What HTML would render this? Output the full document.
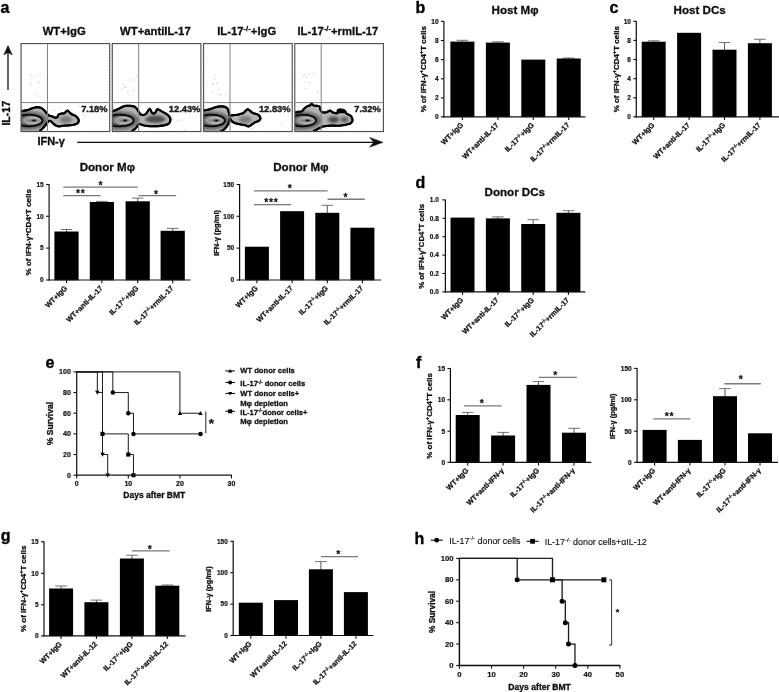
<!DOCTYPE html>
<html><head><meta charset="utf-8"><title>Figure</title>
<style>html,body{margin:0;padding:0;background:#fff;}svg{display:block;font-family:"Liberation Sans", sans-serif;}text{font-family:"Liberation Sans", sans-serif;}</style></head><body>
<svg width="779" height="692" viewBox="0 0 779 692">
<defs><filter id="bl" x="-20%" y="-20%" width="140%" height="140%"><feGaussianBlur stdDeviation="0.33"/></filter><filter id="bl2" x="-20%" y="-20%" width="140%" height="140%"><feGaussianBlur stdDeviation="1.6"/></filter></defs>
<rect width="779" height="692" fill="#fff"/>
<g filter="url(#bl)">
<text x="0.60" y="12.90" font-size="16.00" font-weight="bold" text-anchor="start" fill="#000" stroke="#000" stroke-width="0.35" stroke-linejoin="round" >a</text>
<text x="415.50" y="13.10" font-size="16.00" font-weight="bold" text-anchor="start" fill="#000" stroke="#000" stroke-width="0.35" stroke-linejoin="round" >b</text>
<text x="609.40" y="12.50" font-size="16.00" font-weight="bold" text-anchor="start" fill="#000" stroke="#000" stroke-width="0.35" stroke-linejoin="round" >c</text>
<text x="415.50" y="187.70" font-size="16.00" font-weight="bold" text-anchor="start" fill="#000" stroke="#000" stroke-width="0.35" stroke-linejoin="round" >d</text>
<text x="45.60" y="367.80" font-size="16.00" font-weight="bold" text-anchor="start" fill="#000" stroke="#000" stroke-width="0.35" stroke-linejoin="round" >e</text>
<text x="416.00" y="368.40" font-size="16.00" font-weight="bold" text-anchor="start" fill="#000" stroke="#000" stroke-width="0.35" stroke-linejoin="round" >f</text>
<text x="0.80" y="541.10" font-size="16.00" font-weight="bold" text-anchor="start" fill="#000" stroke="#000" stroke-width="0.35" stroke-linejoin="round" >g</text>
<text x="414.40" y="543.70" font-size="16.00" font-weight="bold" text-anchor="start" fill="#000" stroke="#000" stroke-width="0.35" stroke-linejoin="round" >h</text>
<text x="64.20" y="34.90" font-size="11.30" font-weight="bold" text-anchor="middle" fill="#111" stroke="#111" stroke-width="0.30" stroke-linejoin="round" >WT+IgG</text>
<rect x="34.3" y="75.8" width="1.4" height="1.4" fill="#d8d8d8"/>
<rect x="39.5" y="73.8" width="1.4" height="1.4" fill="#d8d8d8"/>
<rect x="37.7" y="81.1" width="1.4" height="1.4" fill="#d8d8d8"/>
<rect x="30.0" y="84.7" width="1.4" height="1.4" fill="#d8d8d8"/>
<rect x="29.7" y="82.8" width="1.4" height="1.4" fill="#d8d8d8"/>
<rect x="30.2" y="74.3" width="1.4" height="1.4" fill="#d8d8d8"/>
<rect x="35.9" y="92.7" width="1.4" height="1.4" fill="#d8d8d8"/>
<rect x="31.1" y="77.6" width="1.4" height="1.4" fill="#d8d8d8"/>
<rect x="39.1" y="95.7" width="1.4" height="1.4" fill="#d8d8d8"/>
<rect x="38.3" y="81.9" width="1.4" height="1.4" fill="#d8d8d8"/>
<rect x="99.9" y="105.3" width="1.3" height="1.3" fill="#d6d6d6"/>
<rect x="94.0" y="111.8" width="1.3" height="1.3" fill="#d6d6d6"/>
<rect x="58.3" y="107.2" width="1.3" height="1.3" fill="#d6d6d6"/>
<rect x="66.5" y="126.0" width="1.3" height="1.3" fill="#d6d6d6"/>
<rect x="60.1" y="119.7" width="1.3" height="1.3" fill="#d6d6d6"/>
<rect x="83.0" y="114.1" width="1.3" height="1.3" fill="#d6d6d6"/>
<rect x="78.5" y="105.7" width="1.3" height="1.3" fill="#d6d6d6"/>
<rect x="54.1" y="109.6" width="1.3" height="1.3" fill="#d6d6d6"/>
<rect x="85.1" y="115.5" width="1.3" height="1.3" fill="#d6d6d6"/>
<g transform="translate(21.10,0)">
<clipPath id="cp0"><rect x="0.3" y="43.6" width="88.0" height="87.7"/></clipPath>
<g clip-path="url(#cp0)">
<path d="M-0.07,111.26 C1.72,110.99 4.75,110.51 6.74,109.97 C8.73,109.44 10.37,108.52 11.87,108.05 C13.37,107.58 14.44,107.21 15.72,107.15 C17.01,107.08 18.40,107.19 19.57,107.66 C20.75,108.13 21.82,109.05 22.78,109.97 C23.75,110.89 24.56,112.28 25.35,113.18 C26.14,114.08 26.57,114.83 27.53,115.36 C28.50,115.90 29.99,116.01 31.13,116.39 C32.26,116.78 33.48,117.57 34.34,117.67 C35.19,117.78 35.73,117.57 36.26,117.03 C36.80,116.50 36.90,115.04 37.55,114.46 C38.19,113.89 39.15,113.78 40.11,113.57 C41.08,113.35 42.47,113.57 43.32,113.18 C44.18,112.80 44.67,111.68 45.25,111.26 C45.83,110.83 46.25,110.40 46.79,110.61 C47.32,110.83 47.75,111.90 48.46,112.54 C49.16,113.18 50.06,113.93 51.02,114.46 C51.99,115.00 53.27,115.11 54.23,115.75 C55.20,116.39 56.22,117.46 56.80,118.32 C57.38,119.17 57.81,120.03 57.70,120.88 C57.59,121.74 56.95,122.81 56.16,123.45 C55.37,124.09 54.34,124.41 52.95,124.73 C51.56,125.06 49.53,125.23 47.82,125.38 C46.10,125.53 44.29,125.46 42.68,125.63 C41.08,125.80 39.47,126.40 38.19,126.40 C36.90,126.40 35.94,126.06 34.98,125.63 C34.02,125.20 33.27,124.56 32.41,123.84 C31.56,123.11 30.59,121.76 29.84,121.27 C29.09,120.78 28.56,120.63 27.92,120.88 C27.28,121.14 26.63,122.02 25.99,122.81 C25.35,123.60 24.82,124.67 24.07,125.63 C23.32,126.60 22.36,127.71 21.50,128.59 C20.64,129.46 19.61,129.91 18.93,130.90 C18.25,131.88 21.25,133.90 17.43,134.50 C13.61,135.10 -0.43,138.32 -4.00,134.50 C-7.57,130.68 -4.66,115.43 -4.00,111.56 C-3.34,107.68 -1.86,111.52 -0.07,111.26 Z" fill="#b4b4b4" stroke="#000" stroke-width="2.1" stroke-linejoin="round"/>
<ellipse cx="44.6" cy="119.6" rx="6.4" ry="3.3" fill="#777" filter="url(#bl2)"/>
<ellipse cx="7" cy="120.5" rx="19.5" ry="9.2" fill="#636363" filter="url(#bl2)"/>
<ellipse cx="7.6" cy="120.5" rx="13.8" ry="6.0" fill="#464646" stroke="#000" stroke-width="1.5"/>
<ellipse cx="9.6" cy="120.5" rx="10.6" ry="4.4" fill="#808080" stroke="none" stroke-width="0.0"/>
<ellipse cx="11.4" cy="120.5" rx="7.8" ry="3.2" fill="#858585" stroke="#dcdcdc" stroke-width="0.7"/>
<ellipse cx="12.0" cy="120.5" rx="5.0" ry="1.9" fill="#707070" stroke="#d8d8d8" stroke-width="0.6"/>
<ellipse cx="12.9" cy="120.5" rx="1.9" ry="0.9" fill="#111" stroke="none" stroke-width="0.0"/>
<path d="M-0.07,111.26 C1.72,110.99 4.75,110.51 6.74,109.97 C8.73,109.44 10.37,108.52 11.87,108.05 C13.37,107.58 14.44,107.21 15.72,107.15 C17.01,107.08 18.40,107.19 19.57,107.66 C20.75,108.13 21.82,109.05 22.78,109.97 C23.75,110.89 24.56,112.28 25.35,113.18 C26.14,114.08 26.57,114.83 27.53,115.36 C28.50,115.90 29.99,116.01 31.13,116.39 C32.26,116.78 33.48,117.57 34.34,117.67 C35.19,117.78 35.73,117.57 36.26,117.03 C36.80,116.50 36.90,115.04 37.55,114.46 C38.19,113.89 39.15,113.78 40.11,113.57 C41.08,113.35 42.47,113.57 43.32,113.18 C44.18,112.80 44.67,111.68 45.25,111.26 C45.83,110.83 46.25,110.40 46.79,110.61 C47.32,110.83 47.75,111.90 48.46,112.54 C49.16,113.18 50.06,113.93 51.02,114.46 C51.99,115.00 53.27,115.11 54.23,115.75 C55.20,116.39 56.22,117.46 56.80,118.32 C57.38,119.17 57.81,120.03 57.70,120.88 C57.59,121.74 56.95,122.81 56.16,123.45 C55.37,124.09 54.34,124.41 52.95,124.73 C51.56,125.06 49.53,125.23 47.82,125.38 C46.10,125.53 44.29,125.46 42.68,125.63 C41.08,125.80 39.47,126.40 38.19,126.40 C36.90,126.40 35.94,126.06 34.98,125.63 C34.02,125.20 33.27,124.56 32.41,123.84 C31.56,123.11 30.59,121.76 29.84,121.27 C29.09,120.78 28.56,120.63 27.92,120.88 C27.28,121.14 26.63,122.02 25.99,122.81 C25.35,123.60 24.82,124.67 24.07,125.63 C23.32,126.60 22.36,127.71 21.50,128.59 C20.64,129.46 19.61,129.91 18.93,130.90 C18.25,131.88 21.25,133.90 17.43,134.50 C13.61,135.10 -0.43,138.32 -4.00,134.50 C-7.57,130.68 -4.66,115.43 -4.00,111.56 C-3.34,107.68 -1.86,111.52 -0.07,111.26 Z" fill="none" stroke="#000" stroke-width="2.0" stroke-linejoin="round"/>
</g></g>
<rect x="21.10" y="43.60" width="88.60" height="87.90" fill="none" stroke="#4a4a4a" stroke-width="1.10"/>
<line x1="47.50" y1="43.60" x2="47.50" y2="131.50" stroke="#808080" stroke-width="1.00" stroke-linecap="butt"/>
<line x1="21.10" y1="102.60" x2="109.70" y2="102.60" stroke="#808080" stroke-width="1.00" stroke-linecap="butt"/>
<line x1="19.90" y1="45.60" x2="21.10" y2="45.60" stroke="#888" stroke-width="0.50" stroke-linecap="butt"/>
<line x1="19.90" y1="48.60" x2="21.10" y2="48.60" stroke="#888" stroke-width="0.50" stroke-linecap="butt"/>
<line x1="19.90" y1="51.60" x2="21.10" y2="51.60" stroke="#888" stroke-width="0.50" stroke-linecap="butt"/>
<line x1="19.90" y1="54.60" x2="21.10" y2="54.60" stroke="#888" stroke-width="0.50" stroke-linecap="butt"/>
<line x1="19.90" y1="57.60" x2="21.10" y2="57.60" stroke="#888" stroke-width="0.50" stroke-linecap="butt"/>
<line x1="19.90" y1="60.60" x2="21.10" y2="60.60" stroke="#888" stroke-width="0.50" stroke-linecap="butt"/>
<line x1="19.90" y1="63.60" x2="21.10" y2="63.60" stroke="#888" stroke-width="0.50" stroke-linecap="butt"/>
<line x1="19.90" y1="66.60" x2="21.10" y2="66.60" stroke="#888" stroke-width="0.50" stroke-linecap="butt"/>
<line x1="19.90" y1="69.60" x2="21.10" y2="69.60" stroke="#888" stroke-width="0.50" stroke-linecap="butt"/>
<line x1="19.90" y1="72.60" x2="21.10" y2="72.60" stroke="#888" stroke-width="0.50" stroke-linecap="butt"/>
<line x1="19.90" y1="75.60" x2="21.10" y2="75.60" stroke="#888" stroke-width="0.50" stroke-linecap="butt"/>
<line x1="19.90" y1="78.60" x2="21.10" y2="78.60" stroke="#888" stroke-width="0.50" stroke-linecap="butt"/>
<line x1="19.90" y1="81.60" x2="21.10" y2="81.60" stroke="#888" stroke-width="0.50" stroke-linecap="butt"/>
<line x1="19.90" y1="84.60" x2="21.10" y2="84.60" stroke="#888" stroke-width="0.50" stroke-linecap="butt"/>
<line x1="19.90" y1="87.60" x2="21.10" y2="87.60" stroke="#888" stroke-width="0.50" stroke-linecap="butt"/>
<line x1="19.90" y1="90.60" x2="21.10" y2="90.60" stroke="#888" stroke-width="0.50" stroke-linecap="butt"/>
<line x1="19.90" y1="93.60" x2="21.10" y2="93.60" stroke="#888" stroke-width="0.50" stroke-linecap="butt"/>
<line x1="19.90" y1="96.60" x2="21.10" y2="96.60" stroke="#888" stroke-width="0.50" stroke-linecap="butt"/>
<line x1="19.90" y1="99.60" x2="21.10" y2="99.60" stroke="#888" stroke-width="0.50" stroke-linecap="butt"/>
<line x1="19.90" y1="102.60" x2="21.10" y2="102.60" stroke="#888" stroke-width="0.50" stroke-linecap="butt"/>
<line x1="19.90" y1="105.60" x2="21.10" y2="105.60" stroke="#888" stroke-width="0.50" stroke-linecap="butt"/>
<line x1="19.90" y1="108.60" x2="21.10" y2="108.60" stroke="#888" stroke-width="0.50" stroke-linecap="butt"/>
<line x1="19.90" y1="111.60" x2="21.10" y2="111.60" stroke="#888" stroke-width="0.50" stroke-linecap="butt"/>
<line x1="19.90" y1="114.60" x2="21.10" y2="114.60" stroke="#888" stroke-width="0.50" stroke-linecap="butt"/>
<line x1="19.90" y1="117.60" x2="21.10" y2="117.60" stroke="#888" stroke-width="0.50" stroke-linecap="butt"/>
<line x1="19.90" y1="120.60" x2="21.10" y2="120.60" stroke="#888" stroke-width="0.50" stroke-linecap="butt"/>
<line x1="19.90" y1="123.60" x2="21.10" y2="123.60" stroke="#888" stroke-width="0.50" stroke-linecap="butt"/>
<line x1="19.90" y1="126.60" x2="21.10" y2="126.60" stroke="#888" stroke-width="0.50" stroke-linecap="butt"/>
<line x1="19.90" y1="129.60" x2="21.10" y2="129.60" stroke="#888" stroke-width="0.50" stroke-linecap="butt"/>
<line x1="22.10" y1="131.50" x2="22.10" y2="132.70" stroke="#888" stroke-width="0.50" stroke-linecap="butt"/>
<line x1="25.10" y1="131.50" x2="25.10" y2="132.70" stroke="#888" stroke-width="0.50" stroke-linecap="butt"/>
<line x1="28.10" y1="131.50" x2="28.10" y2="132.70" stroke="#888" stroke-width="0.50" stroke-linecap="butt"/>
<line x1="31.10" y1="131.50" x2="31.10" y2="132.70" stroke="#888" stroke-width="0.50" stroke-linecap="butt"/>
<line x1="34.10" y1="131.50" x2="34.10" y2="132.70" stroke="#888" stroke-width="0.50" stroke-linecap="butt"/>
<line x1="37.10" y1="131.50" x2="37.10" y2="132.70" stroke="#888" stroke-width="0.50" stroke-linecap="butt"/>
<line x1="40.10" y1="131.50" x2="40.10" y2="132.70" stroke="#888" stroke-width="0.50" stroke-linecap="butt"/>
<line x1="43.10" y1="131.50" x2="43.10" y2="132.70" stroke="#888" stroke-width="0.50" stroke-linecap="butt"/>
<line x1="46.10" y1="131.50" x2="46.10" y2="132.70" stroke="#888" stroke-width="0.50" stroke-linecap="butt"/>
<line x1="49.10" y1="131.50" x2="49.10" y2="132.70" stroke="#888" stroke-width="0.50" stroke-linecap="butt"/>
<line x1="52.10" y1="131.50" x2="52.10" y2="132.70" stroke="#888" stroke-width="0.50" stroke-linecap="butt"/>
<line x1="55.10" y1="131.50" x2="55.10" y2="132.70" stroke="#888" stroke-width="0.50" stroke-linecap="butt"/>
<line x1="58.10" y1="131.50" x2="58.10" y2="132.70" stroke="#888" stroke-width="0.50" stroke-linecap="butt"/>
<line x1="61.10" y1="131.50" x2="61.10" y2="132.70" stroke="#888" stroke-width="0.50" stroke-linecap="butt"/>
<line x1="64.10" y1="131.50" x2="64.10" y2="132.70" stroke="#888" stroke-width="0.50" stroke-linecap="butt"/>
<line x1="67.10" y1="131.50" x2="67.10" y2="132.70" stroke="#888" stroke-width="0.50" stroke-linecap="butt"/>
<line x1="70.10" y1="131.50" x2="70.10" y2="132.70" stroke="#888" stroke-width="0.50" stroke-linecap="butt"/>
<line x1="73.10" y1="131.50" x2="73.10" y2="132.70" stroke="#888" stroke-width="0.50" stroke-linecap="butt"/>
<line x1="76.10" y1="131.50" x2="76.10" y2="132.70" stroke="#888" stroke-width="0.50" stroke-linecap="butt"/>
<line x1="79.10" y1="131.50" x2="79.10" y2="132.70" stroke="#888" stroke-width="0.50" stroke-linecap="butt"/>
<line x1="82.10" y1="131.50" x2="82.10" y2="132.70" stroke="#888" stroke-width="0.50" stroke-linecap="butt"/>
<line x1="85.10" y1="131.50" x2="85.10" y2="132.70" stroke="#888" stroke-width="0.50" stroke-linecap="butt"/>
<line x1="88.10" y1="131.50" x2="88.10" y2="132.70" stroke="#888" stroke-width="0.50" stroke-linecap="butt"/>
<line x1="91.10" y1="131.50" x2="91.10" y2="132.70" stroke="#888" stroke-width="0.50" stroke-linecap="butt"/>
<line x1="94.10" y1="131.50" x2="94.10" y2="132.70" stroke="#888" stroke-width="0.50" stroke-linecap="butt"/>
<line x1="97.10" y1="131.50" x2="97.10" y2="132.70" stroke="#888" stroke-width="0.50" stroke-linecap="butt"/>
<line x1="100.10" y1="131.50" x2="100.10" y2="132.70" stroke="#888" stroke-width="0.50" stroke-linecap="butt"/>
<line x1="103.10" y1="131.50" x2="103.10" y2="132.70" stroke="#888" stroke-width="0.50" stroke-linecap="butt"/>
<line x1="106.10" y1="131.50" x2="106.10" y2="132.70" stroke="#888" stroke-width="0.50" stroke-linecap="butt"/>
<line x1="109.10" y1="131.50" x2="109.10" y2="132.70" stroke="#888" stroke-width="0.50" stroke-linecap="butt"/>
<text x="107.50" y="111.80" font-size="9.30" font-weight="bold" text-anchor="end" fill="#1a1a1a" stroke="#1a1a1a" stroke-width="0.40" stroke-linejoin="round" >7.18%</text>
<text x="155.40" y="34.90" font-size="11.30" font-weight="bold" text-anchor="middle" fill="#111" stroke="#111" stroke-width="0.30" stroke-linejoin="round" >WT+antiIL-17</text>
<rect x="125.3" y="86.6" width="1.4" height="1.4" fill="#d8d8d8"/>
<rect x="127.6" y="79.5" width="1.4" height="1.4" fill="#d8d8d8"/>
<rect x="133.0" y="89.5" width="1.4" height="1.4" fill="#d8d8d8"/>
<rect x="124.2" y="86.4" width="1.4" height="1.4" fill="#d8d8d8"/>
<rect x="128.7" y="93.9" width="1.4" height="1.4" fill="#d8d8d8"/>
<rect x="132.0" y="79.2" width="1.4" height="1.4" fill="#d8d8d8"/>
<rect x="136.0" y="75.0" width="1.4" height="1.4" fill="#d8d8d8"/>
<rect x="127.0" y="90.9" width="1.4" height="1.4" fill="#d8d8d8"/>
<rect x="122.7" y="84.2" width="1.4" height="1.4" fill="#d8d8d8"/>
<rect x="120.9" y="88.7" width="1.4" height="1.4" fill="#d8d8d8"/>
<rect x="180.5" y="119.5" width="1.3" height="1.3" fill="#d6d6d6"/>
<rect x="186.1" y="112.5" width="1.3" height="1.3" fill="#d6d6d6"/>
<rect x="177.1" y="120.0" width="1.3" height="1.3" fill="#d6d6d6"/>
<rect x="171.3" y="116.3" width="1.3" height="1.3" fill="#d6d6d6"/>
<rect x="184.3" y="129.5" width="1.3" height="1.3" fill="#d6d6d6"/>
<rect x="166.0" y="121.9" width="1.3" height="1.3" fill="#d6d6d6"/>
<rect x="145.3" y="122.9" width="1.3" height="1.3" fill="#d6d6d6"/>
<rect x="174.7" y="130.8" width="1.3" height="1.3" fill="#d6d6d6"/>
<rect x="183.4" y="111.7" width="1.3" height="1.3" fill="#d6d6d6"/>
<g transform="translate(112.30,0)">
<clipPath id="cp1"><rect x="0.3" y="43.6" width="88.0" height="87.7"/></clipPath>
<g clip-path="url(#cp1)">
<path d="M0.12,111.26 C1.45,110.99 2.69,110.51 3.97,109.97 C5.25,109.44 6.32,108.73 7.82,108.05 C9.32,107.36 11.24,106.23 12.96,105.86 C14.67,105.50 16.59,105.76 18.09,105.86 C19.59,105.97 20.87,106.04 21.94,106.51 C23.01,106.98 23.76,107.79 24.51,108.69 C25.26,109.59 25.84,111.00 26.43,111.90 C27.03,112.80 27.35,113.54 28.10,114.08 C28.85,114.61 29.99,115.15 30.93,115.11 C31.87,115.06 33.00,114.46 33.75,113.82 C34.50,113.18 34.82,112.11 35.42,111.26 C36.02,110.40 36.81,108.80 37.35,108.69 C37.88,108.58 38.24,109.93 38.63,110.61 C39.01,111.30 39.06,112.35 39.66,112.80 C40.26,113.25 41.54,113.57 42.22,113.31 C42.91,113.05 43.29,111.92 43.76,111.26 C44.23,110.59 44.41,109.50 45.05,109.33 C45.69,109.16 46.76,109.80 47.62,110.23 C48.47,110.66 49.11,111.30 50.18,111.90 C51.25,112.50 52.92,113.07 54.03,113.82 C55.15,114.57 56.17,115.43 56.86,116.39 C57.54,117.35 58.14,118.47 58.14,119.60 C58.14,120.73 57.76,122.27 56.86,123.19 C55.96,124.11 54.29,124.67 52.75,125.12 C51.21,125.57 49.33,125.72 47.62,125.89 C45.90,126.06 44.19,126.10 42.48,126.15 C40.77,126.19 39.06,126.23 37.35,126.15 C35.63,126.06 33.71,125.93 32.21,125.63 C30.71,125.33 29.32,124.61 28.36,124.35 C27.40,124.09 27.01,123.75 26.43,124.09 C25.86,124.43 25.54,125.59 24.89,126.40 C24.25,127.22 23.40,128.22 22.58,128.97 C21.77,129.72 20.69,129.97 20.02,130.90 C19.34,131.82 22.52,133.90 18.52,134.50 C14.51,135.10 -0.25,138.32 -4.00,134.50 C-7.75,130.68 -4.69,115.43 -4.00,111.56 C-3.31,107.68 -1.21,111.52 0.12,111.26 Z" fill="#b4b4b4" stroke="#000" stroke-width="2.1" stroke-linejoin="round"/>
<ellipse cx="43.1" cy="119.2" rx="10.3" ry="3.6" fill="#4a4a4a" filter="url(#bl2)"/>
<ellipse cx="7" cy="120.5" rx="19.5" ry="9.2" fill="#636363" filter="url(#bl2)"/>
<ellipse cx="7.6" cy="120.5" rx="13.8" ry="6.0" fill="#464646" stroke="#000" stroke-width="1.5"/>
<ellipse cx="9.6" cy="120.5" rx="10.6" ry="4.4" fill="#808080" stroke="none" stroke-width="0.0"/>
<ellipse cx="11.4" cy="120.5" rx="7.8" ry="3.2" fill="#858585" stroke="#dcdcdc" stroke-width="0.7"/>
<ellipse cx="12.0" cy="120.5" rx="5.0" ry="1.9" fill="#707070" stroke="#d8d8d8" stroke-width="0.6"/>
<ellipse cx="12.9" cy="120.5" rx="1.9" ry="0.9" fill="#111" stroke="none" stroke-width="0.0"/>
<path d="M0.12,111.26 C1.45,110.99 2.69,110.51 3.97,109.97 C5.25,109.44 6.32,108.73 7.82,108.05 C9.32,107.36 11.24,106.23 12.96,105.86 C14.67,105.50 16.59,105.76 18.09,105.86 C19.59,105.97 20.87,106.04 21.94,106.51 C23.01,106.98 23.76,107.79 24.51,108.69 C25.26,109.59 25.84,111.00 26.43,111.90 C27.03,112.80 27.35,113.54 28.10,114.08 C28.85,114.61 29.99,115.15 30.93,115.11 C31.87,115.06 33.00,114.46 33.75,113.82 C34.50,113.18 34.82,112.11 35.42,111.26 C36.02,110.40 36.81,108.80 37.35,108.69 C37.88,108.58 38.24,109.93 38.63,110.61 C39.01,111.30 39.06,112.35 39.66,112.80 C40.26,113.25 41.54,113.57 42.22,113.31 C42.91,113.05 43.29,111.92 43.76,111.26 C44.23,110.59 44.41,109.50 45.05,109.33 C45.69,109.16 46.76,109.80 47.62,110.23 C48.47,110.66 49.11,111.30 50.18,111.90 C51.25,112.50 52.92,113.07 54.03,113.82 C55.15,114.57 56.17,115.43 56.86,116.39 C57.54,117.35 58.14,118.47 58.14,119.60 C58.14,120.73 57.76,122.27 56.86,123.19 C55.96,124.11 54.29,124.67 52.75,125.12 C51.21,125.57 49.33,125.72 47.62,125.89 C45.90,126.06 44.19,126.10 42.48,126.15 C40.77,126.19 39.06,126.23 37.35,126.15 C35.63,126.06 33.71,125.93 32.21,125.63 C30.71,125.33 29.32,124.61 28.36,124.35 C27.40,124.09 27.01,123.75 26.43,124.09 C25.86,124.43 25.54,125.59 24.89,126.40 C24.25,127.22 23.40,128.22 22.58,128.97 C21.77,129.72 20.69,129.97 20.02,130.90 C19.34,131.82 22.52,133.90 18.52,134.50 C14.51,135.10 -0.25,138.32 -4.00,134.50 C-7.75,130.68 -4.69,115.43 -4.00,111.56 C-3.31,107.68 -1.21,111.52 0.12,111.26 Z" fill="none" stroke="#000" stroke-width="2.0" stroke-linejoin="round"/>
</g></g>
<rect x="112.30" y="43.60" width="88.60" height="87.90" fill="none" stroke="#4a4a4a" stroke-width="1.10"/>
<line x1="138.70" y1="43.60" x2="138.70" y2="131.50" stroke="#808080" stroke-width="1.00" stroke-linecap="butt"/>
<line x1="112.30" y1="102.60" x2="200.90" y2="102.60" stroke="#808080" stroke-width="1.00" stroke-linecap="butt"/>
<line x1="111.10" y1="45.60" x2="112.30" y2="45.60" stroke="#888" stroke-width="0.50" stroke-linecap="butt"/>
<line x1="111.10" y1="48.60" x2="112.30" y2="48.60" stroke="#888" stroke-width="0.50" stroke-linecap="butt"/>
<line x1="111.10" y1="51.60" x2="112.30" y2="51.60" stroke="#888" stroke-width="0.50" stroke-linecap="butt"/>
<line x1="111.10" y1="54.60" x2="112.30" y2="54.60" stroke="#888" stroke-width="0.50" stroke-linecap="butt"/>
<line x1="111.10" y1="57.60" x2="112.30" y2="57.60" stroke="#888" stroke-width="0.50" stroke-linecap="butt"/>
<line x1="111.10" y1="60.60" x2="112.30" y2="60.60" stroke="#888" stroke-width="0.50" stroke-linecap="butt"/>
<line x1="111.10" y1="63.60" x2="112.30" y2="63.60" stroke="#888" stroke-width="0.50" stroke-linecap="butt"/>
<line x1="111.10" y1="66.60" x2="112.30" y2="66.60" stroke="#888" stroke-width="0.50" stroke-linecap="butt"/>
<line x1="111.10" y1="69.60" x2="112.30" y2="69.60" stroke="#888" stroke-width="0.50" stroke-linecap="butt"/>
<line x1="111.10" y1="72.60" x2="112.30" y2="72.60" stroke="#888" stroke-width="0.50" stroke-linecap="butt"/>
<line x1="111.10" y1="75.60" x2="112.30" y2="75.60" stroke="#888" stroke-width="0.50" stroke-linecap="butt"/>
<line x1="111.10" y1="78.60" x2="112.30" y2="78.60" stroke="#888" stroke-width="0.50" stroke-linecap="butt"/>
<line x1="111.10" y1="81.60" x2="112.30" y2="81.60" stroke="#888" stroke-width="0.50" stroke-linecap="butt"/>
<line x1="111.10" y1="84.60" x2="112.30" y2="84.60" stroke="#888" stroke-width="0.50" stroke-linecap="butt"/>
<line x1="111.10" y1="87.60" x2="112.30" y2="87.60" stroke="#888" stroke-width="0.50" stroke-linecap="butt"/>
<line x1="111.10" y1="90.60" x2="112.30" y2="90.60" stroke="#888" stroke-width="0.50" stroke-linecap="butt"/>
<line x1="111.10" y1="93.60" x2="112.30" y2="93.60" stroke="#888" stroke-width="0.50" stroke-linecap="butt"/>
<line x1="111.10" y1="96.60" x2="112.30" y2="96.60" stroke="#888" stroke-width="0.50" stroke-linecap="butt"/>
<line x1="111.10" y1="99.60" x2="112.30" y2="99.60" stroke="#888" stroke-width="0.50" stroke-linecap="butt"/>
<line x1="111.10" y1="102.60" x2="112.30" y2="102.60" stroke="#888" stroke-width="0.50" stroke-linecap="butt"/>
<line x1="111.10" y1="105.60" x2="112.30" y2="105.60" stroke="#888" stroke-width="0.50" stroke-linecap="butt"/>
<line x1="111.10" y1="108.60" x2="112.30" y2="108.60" stroke="#888" stroke-width="0.50" stroke-linecap="butt"/>
<line x1="111.10" y1="111.60" x2="112.30" y2="111.60" stroke="#888" stroke-width="0.50" stroke-linecap="butt"/>
<line x1="111.10" y1="114.60" x2="112.30" y2="114.60" stroke="#888" stroke-width="0.50" stroke-linecap="butt"/>
<line x1="111.10" y1="117.60" x2="112.30" y2="117.60" stroke="#888" stroke-width="0.50" stroke-linecap="butt"/>
<line x1="111.10" y1="120.60" x2="112.30" y2="120.60" stroke="#888" stroke-width="0.50" stroke-linecap="butt"/>
<line x1="111.10" y1="123.60" x2="112.30" y2="123.60" stroke="#888" stroke-width="0.50" stroke-linecap="butt"/>
<line x1="111.10" y1="126.60" x2="112.30" y2="126.60" stroke="#888" stroke-width="0.50" stroke-linecap="butt"/>
<line x1="111.10" y1="129.60" x2="112.30" y2="129.60" stroke="#888" stroke-width="0.50" stroke-linecap="butt"/>
<line x1="113.30" y1="131.50" x2="113.30" y2="132.70" stroke="#888" stroke-width="0.50" stroke-linecap="butt"/>
<line x1="116.30" y1="131.50" x2="116.30" y2="132.70" stroke="#888" stroke-width="0.50" stroke-linecap="butt"/>
<line x1="119.30" y1="131.50" x2="119.30" y2="132.70" stroke="#888" stroke-width="0.50" stroke-linecap="butt"/>
<line x1="122.30" y1="131.50" x2="122.30" y2="132.70" stroke="#888" stroke-width="0.50" stroke-linecap="butt"/>
<line x1="125.30" y1="131.50" x2="125.30" y2="132.70" stroke="#888" stroke-width="0.50" stroke-linecap="butt"/>
<line x1="128.30" y1="131.50" x2="128.30" y2="132.70" stroke="#888" stroke-width="0.50" stroke-linecap="butt"/>
<line x1="131.30" y1="131.50" x2="131.30" y2="132.70" stroke="#888" stroke-width="0.50" stroke-linecap="butt"/>
<line x1="134.30" y1="131.50" x2="134.30" y2="132.70" stroke="#888" stroke-width="0.50" stroke-linecap="butt"/>
<line x1="137.30" y1="131.50" x2="137.30" y2="132.70" stroke="#888" stroke-width="0.50" stroke-linecap="butt"/>
<line x1="140.30" y1="131.50" x2="140.30" y2="132.70" stroke="#888" stroke-width="0.50" stroke-linecap="butt"/>
<line x1="143.30" y1="131.50" x2="143.30" y2="132.70" stroke="#888" stroke-width="0.50" stroke-linecap="butt"/>
<line x1="146.30" y1="131.50" x2="146.30" y2="132.70" stroke="#888" stroke-width="0.50" stroke-linecap="butt"/>
<line x1="149.30" y1="131.50" x2="149.30" y2="132.70" stroke="#888" stroke-width="0.50" stroke-linecap="butt"/>
<line x1="152.30" y1="131.50" x2="152.30" y2="132.70" stroke="#888" stroke-width="0.50" stroke-linecap="butt"/>
<line x1="155.30" y1="131.50" x2="155.30" y2="132.70" stroke="#888" stroke-width="0.50" stroke-linecap="butt"/>
<line x1="158.30" y1="131.50" x2="158.30" y2="132.70" stroke="#888" stroke-width="0.50" stroke-linecap="butt"/>
<line x1="161.30" y1="131.50" x2="161.30" y2="132.70" stroke="#888" stroke-width="0.50" stroke-linecap="butt"/>
<line x1="164.30" y1="131.50" x2="164.30" y2="132.70" stroke="#888" stroke-width="0.50" stroke-linecap="butt"/>
<line x1="167.30" y1="131.50" x2="167.30" y2="132.70" stroke="#888" stroke-width="0.50" stroke-linecap="butt"/>
<line x1="170.30" y1="131.50" x2="170.30" y2="132.70" stroke="#888" stroke-width="0.50" stroke-linecap="butt"/>
<line x1="173.30" y1="131.50" x2="173.30" y2="132.70" stroke="#888" stroke-width="0.50" stroke-linecap="butt"/>
<line x1="176.30" y1="131.50" x2="176.30" y2="132.70" stroke="#888" stroke-width="0.50" stroke-linecap="butt"/>
<line x1="179.30" y1="131.50" x2="179.30" y2="132.70" stroke="#888" stroke-width="0.50" stroke-linecap="butt"/>
<line x1="182.30" y1="131.50" x2="182.30" y2="132.70" stroke="#888" stroke-width="0.50" stroke-linecap="butt"/>
<line x1="185.30" y1="131.50" x2="185.30" y2="132.70" stroke="#888" stroke-width="0.50" stroke-linecap="butt"/>
<line x1="188.30" y1="131.50" x2="188.30" y2="132.70" stroke="#888" stroke-width="0.50" stroke-linecap="butt"/>
<line x1="191.30" y1="131.50" x2="191.30" y2="132.70" stroke="#888" stroke-width="0.50" stroke-linecap="butt"/>
<line x1="194.30" y1="131.50" x2="194.30" y2="132.70" stroke="#888" stroke-width="0.50" stroke-linecap="butt"/>
<line x1="197.30" y1="131.50" x2="197.30" y2="132.70" stroke="#888" stroke-width="0.50" stroke-linecap="butt"/>
<line x1="200.30" y1="131.50" x2="200.30" y2="132.70" stroke="#888" stroke-width="0.50" stroke-linecap="butt"/>
<text x="200.40" y="111.80" font-size="9.30" font-weight="bold" text-anchor="end" fill="#1a1a1a" stroke="#1a1a1a" stroke-width="0.40" stroke-linejoin="round" >12.43%</text>
<text x="246.70" y="34.90" font-size="11.30" font-weight="bold" text-anchor="middle" fill="#111" stroke="#111" stroke-width="0.30" stroke-linejoin="round" >IL-17<tspan dy="-4.07" font-size="7.68">-/-</tspan><tspan dy="4.07" font-size="11.30">​</tspan>+IgG</text>
<rect x="217.8" y="88.7" width="1.4" height="1.4" fill="#d8d8d8"/>
<rect x="212.0" y="83.5" width="1.4" height="1.4" fill="#d8d8d8"/>
<rect x="214.3" y="74.9" width="1.4" height="1.4" fill="#d8d8d8"/>
<rect x="212.5" y="91.2" width="1.4" height="1.4" fill="#d8d8d8"/>
<rect x="213.7" y="78.2" width="1.4" height="1.4" fill="#d8d8d8"/>
<rect x="217.9" y="93.8" width="1.4" height="1.4" fill="#d8d8d8"/>
<rect x="212.9" y="83.2" width="1.4" height="1.4" fill="#d8d8d8"/>
<rect x="220.4" y="94.1" width="1.4" height="1.4" fill="#d8d8d8"/>
<rect x="224.7" y="93.6" width="1.4" height="1.4" fill="#d8d8d8"/>
<rect x="216.1" y="82.4" width="1.4" height="1.4" fill="#d8d8d8"/>
<rect x="251.5" y="127.9" width="1.3" height="1.3" fill="#d6d6d6"/>
<rect x="281.5" y="108.1" width="1.3" height="1.3" fill="#d6d6d6"/>
<rect x="242.4" y="110.3" width="1.3" height="1.3" fill="#d6d6d6"/>
<rect x="245.3" y="117.1" width="1.3" height="1.3" fill="#d6d6d6"/>
<rect x="263.1" y="111.1" width="1.3" height="1.3" fill="#d6d6d6"/>
<rect x="233.8" y="115.3" width="1.3" height="1.3" fill="#d6d6d6"/>
<rect x="252.1" y="119.3" width="1.3" height="1.3" fill="#d6d6d6"/>
<rect x="281.3" y="122.6" width="1.3" height="1.3" fill="#d6d6d6"/>
<rect x="259.4" y="120.7" width="1.3" height="1.3" fill="#d6d6d6"/>
<g transform="translate(203.60,0)">
<clipPath id="cp2"><rect x="0.3" y="43.6" width="88.0" height="87.7"/></clipPath>
<g clip-path="url(#cp2)">
<path d="M0.08,110.61 C1.78,110.35 4.35,109.86 6.24,109.33 C8.12,108.80 9.66,107.90 11.37,107.40 C13.08,106.91 14.90,106.48 16.51,106.38 C18.11,106.27 19.76,106.38 21.00,106.76 C22.24,107.15 23.25,107.73 23.95,108.69 C24.66,109.65 24.87,111.36 25.24,112.54 C25.60,113.72 25.71,115.28 26.13,115.75 C26.56,116.22 27.05,115.47 27.80,115.36 C28.55,115.26 29.62,115.19 30.63,115.11 C31.63,115.02 32.87,115.02 33.84,114.85 C34.80,114.68 35.44,114.36 36.40,114.08 C37.37,113.80 38.65,113.76 39.61,113.18 C40.58,112.60 41.43,111.26 42.18,110.61 C42.93,109.97 43.42,109.33 44.11,109.33 C44.79,109.33 45.54,110.08 46.29,110.61 C47.04,111.15 47.68,112.00 48.60,112.54 C49.52,113.07 50.78,113.44 51.81,113.82 C52.84,114.21 53.90,114.10 54.76,114.85 C55.62,115.60 56.90,117.31 56.94,118.32 C56.99,119.32 55.87,120.24 55.02,120.88 C54.16,121.53 52.66,121.74 51.81,122.17 C50.95,122.59 50.63,122.96 49.88,123.45 C49.13,123.94 48.17,124.63 47.32,125.12 C46.46,125.61 45.60,126.36 44.75,126.40 C43.89,126.45 43.14,125.65 42.18,125.38 C41.22,125.10 40.15,124.95 38.97,124.73 C37.79,124.52 36.30,124.35 35.12,124.09 C33.94,123.84 32.87,123.51 31.91,123.19 C30.95,122.87 30.09,122.66 29.34,122.17 C28.59,121.67 27.93,120.88 27.42,120.24 C26.90,119.60 26.58,118.10 26.26,118.32 C25.94,118.53 25.83,120.46 25.49,121.53 C25.15,122.59 24.81,123.66 24.21,124.73 C23.61,125.80 22.75,126.98 21.90,127.94 C21.04,128.91 19.87,129.98 19.07,130.51 C18.28,131.05 17.72,130.49 17.15,131.15 C16.58,131.82 19.17,133.94 15.65,134.50 C12.12,135.06 -0.73,138.43 -4.00,134.50 C-7.27,130.57 -4.68,114.89 -4.00,110.91 C-3.32,106.93 -1.63,110.88 0.08,110.61 Z" fill="#b4b4b4" stroke="#000" stroke-width="2.1" stroke-linejoin="round"/>
<ellipse cx="41.5" cy="119.6" rx="6.4" ry="3.3" fill="#777" filter="url(#bl2)"/>
<ellipse cx="7" cy="120.5" rx="19.5" ry="9.2" fill="#636363" filter="url(#bl2)"/>
<ellipse cx="7.6" cy="120.5" rx="13.8" ry="6.0" fill="#464646" stroke="#000" stroke-width="1.5"/>
<ellipse cx="9.6" cy="120.5" rx="10.6" ry="4.4" fill="#808080" stroke="none" stroke-width="0.0"/>
<ellipse cx="11.4" cy="120.5" rx="7.8" ry="3.2" fill="#858585" stroke="#dcdcdc" stroke-width="0.7"/>
<ellipse cx="12.0" cy="120.5" rx="5.0" ry="1.9" fill="#707070" stroke="#d8d8d8" stroke-width="0.6"/>
<ellipse cx="12.9" cy="120.5" rx="1.9" ry="0.9" fill="#111" stroke="none" stroke-width="0.0"/>
<path d="M0.08,110.61 C1.78,110.35 4.35,109.86 6.24,109.33 C8.12,108.80 9.66,107.90 11.37,107.40 C13.08,106.91 14.90,106.48 16.51,106.38 C18.11,106.27 19.76,106.38 21.00,106.76 C22.24,107.15 23.25,107.73 23.95,108.69 C24.66,109.65 24.87,111.36 25.24,112.54 C25.60,113.72 25.71,115.28 26.13,115.75 C26.56,116.22 27.05,115.47 27.80,115.36 C28.55,115.26 29.62,115.19 30.63,115.11 C31.63,115.02 32.87,115.02 33.84,114.85 C34.80,114.68 35.44,114.36 36.40,114.08 C37.37,113.80 38.65,113.76 39.61,113.18 C40.58,112.60 41.43,111.26 42.18,110.61 C42.93,109.97 43.42,109.33 44.11,109.33 C44.79,109.33 45.54,110.08 46.29,110.61 C47.04,111.15 47.68,112.00 48.60,112.54 C49.52,113.07 50.78,113.44 51.81,113.82 C52.84,114.21 53.90,114.10 54.76,114.85 C55.62,115.60 56.90,117.31 56.94,118.32 C56.99,119.32 55.87,120.24 55.02,120.88 C54.16,121.53 52.66,121.74 51.81,122.17 C50.95,122.59 50.63,122.96 49.88,123.45 C49.13,123.94 48.17,124.63 47.32,125.12 C46.46,125.61 45.60,126.36 44.75,126.40 C43.89,126.45 43.14,125.65 42.18,125.38 C41.22,125.10 40.15,124.95 38.97,124.73 C37.79,124.52 36.30,124.35 35.12,124.09 C33.94,123.84 32.87,123.51 31.91,123.19 C30.95,122.87 30.09,122.66 29.34,122.17 C28.59,121.67 27.93,120.88 27.42,120.24 C26.90,119.60 26.58,118.10 26.26,118.32 C25.94,118.53 25.83,120.46 25.49,121.53 C25.15,122.59 24.81,123.66 24.21,124.73 C23.61,125.80 22.75,126.98 21.90,127.94 C21.04,128.91 19.87,129.98 19.07,130.51 C18.28,131.05 17.72,130.49 17.15,131.15 C16.58,131.82 19.17,133.94 15.65,134.50 C12.12,135.06 -0.73,138.43 -4.00,134.50 C-7.27,130.57 -4.68,114.89 -4.00,110.91 C-3.32,106.93 -1.63,110.88 0.08,110.61 Z" fill="none" stroke="#000" stroke-width="2.0" stroke-linejoin="round"/>
</g></g>
<rect x="203.60" y="43.60" width="88.60" height="87.90" fill="none" stroke="#4a4a4a" stroke-width="1.10"/>
<line x1="230.00" y1="43.60" x2="230.00" y2="131.50" stroke="#808080" stroke-width="1.00" stroke-linecap="butt"/>
<line x1="203.60" y1="102.60" x2="292.20" y2="102.60" stroke="#808080" stroke-width="1.00" stroke-linecap="butt"/>
<line x1="202.40" y1="45.60" x2="203.60" y2="45.60" stroke="#888" stroke-width="0.50" stroke-linecap="butt"/>
<line x1="202.40" y1="48.60" x2="203.60" y2="48.60" stroke="#888" stroke-width="0.50" stroke-linecap="butt"/>
<line x1="202.40" y1="51.60" x2="203.60" y2="51.60" stroke="#888" stroke-width="0.50" stroke-linecap="butt"/>
<line x1="202.40" y1="54.60" x2="203.60" y2="54.60" stroke="#888" stroke-width="0.50" stroke-linecap="butt"/>
<line x1="202.40" y1="57.60" x2="203.60" y2="57.60" stroke="#888" stroke-width="0.50" stroke-linecap="butt"/>
<line x1="202.40" y1="60.60" x2="203.60" y2="60.60" stroke="#888" stroke-width="0.50" stroke-linecap="butt"/>
<line x1="202.40" y1="63.60" x2="203.60" y2="63.60" stroke="#888" stroke-width="0.50" stroke-linecap="butt"/>
<line x1="202.40" y1="66.60" x2="203.60" y2="66.60" stroke="#888" stroke-width="0.50" stroke-linecap="butt"/>
<line x1="202.40" y1="69.60" x2="203.60" y2="69.60" stroke="#888" stroke-width="0.50" stroke-linecap="butt"/>
<line x1="202.40" y1="72.60" x2="203.60" y2="72.60" stroke="#888" stroke-width="0.50" stroke-linecap="butt"/>
<line x1="202.40" y1="75.60" x2="203.60" y2="75.60" stroke="#888" stroke-width="0.50" stroke-linecap="butt"/>
<line x1="202.40" y1="78.60" x2="203.60" y2="78.60" stroke="#888" stroke-width="0.50" stroke-linecap="butt"/>
<line x1="202.40" y1="81.60" x2="203.60" y2="81.60" stroke="#888" stroke-width="0.50" stroke-linecap="butt"/>
<line x1="202.40" y1="84.60" x2="203.60" y2="84.60" stroke="#888" stroke-width="0.50" stroke-linecap="butt"/>
<line x1="202.40" y1="87.60" x2="203.60" y2="87.60" stroke="#888" stroke-width="0.50" stroke-linecap="butt"/>
<line x1="202.40" y1="90.60" x2="203.60" y2="90.60" stroke="#888" stroke-width="0.50" stroke-linecap="butt"/>
<line x1="202.40" y1="93.60" x2="203.60" y2="93.60" stroke="#888" stroke-width="0.50" stroke-linecap="butt"/>
<line x1="202.40" y1="96.60" x2="203.60" y2="96.60" stroke="#888" stroke-width="0.50" stroke-linecap="butt"/>
<line x1="202.40" y1="99.60" x2="203.60" y2="99.60" stroke="#888" stroke-width="0.50" stroke-linecap="butt"/>
<line x1="202.40" y1="102.60" x2="203.60" y2="102.60" stroke="#888" stroke-width="0.50" stroke-linecap="butt"/>
<line x1="202.40" y1="105.60" x2="203.60" y2="105.60" stroke="#888" stroke-width="0.50" stroke-linecap="butt"/>
<line x1="202.40" y1="108.60" x2="203.60" y2="108.60" stroke="#888" stroke-width="0.50" stroke-linecap="butt"/>
<line x1="202.40" y1="111.60" x2="203.60" y2="111.60" stroke="#888" stroke-width="0.50" stroke-linecap="butt"/>
<line x1="202.40" y1="114.60" x2="203.60" y2="114.60" stroke="#888" stroke-width="0.50" stroke-linecap="butt"/>
<line x1="202.40" y1="117.60" x2="203.60" y2="117.60" stroke="#888" stroke-width="0.50" stroke-linecap="butt"/>
<line x1="202.40" y1="120.60" x2="203.60" y2="120.60" stroke="#888" stroke-width="0.50" stroke-linecap="butt"/>
<line x1="202.40" y1="123.60" x2="203.60" y2="123.60" stroke="#888" stroke-width="0.50" stroke-linecap="butt"/>
<line x1="202.40" y1="126.60" x2="203.60" y2="126.60" stroke="#888" stroke-width="0.50" stroke-linecap="butt"/>
<line x1="202.40" y1="129.60" x2="203.60" y2="129.60" stroke="#888" stroke-width="0.50" stroke-linecap="butt"/>
<line x1="204.60" y1="131.50" x2="204.60" y2="132.70" stroke="#888" stroke-width="0.50" stroke-linecap="butt"/>
<line x1="207.60" y1="131.50" x2="207.60" y2="132.70" stroke="#888" stroke-width="0.50" stroke-linecap="butt"/>
<line x1="210.60" y1="131.50" x2="210.60" y2="132.70" stroke="#888" stroke-width="0.50" stroke-linecap="butt"/>
<line x1="213.60" y1="131.50" x2="213.60" y2="132.70" stroke="#888" stroke-width="0.50" stroke-linecap="butt"/>
<line x1="216.60" y1="131.50" x2="216.60" y2="132.70" stroke="#888" stroke-width="0.50" stroke-linecap="butt"/>
<line x1="219.60" y1="131.50" x2="219.60" y2="132.70" stroke="#888" stroke-width="0.50" stroke-linecap="butt"/>
<line x1="222.60" y1="131.50" x2="222.60" y2="132.70" stroke="#888" stroke-width="0.50" stroke-linecap="butt"/>
<line x1="225.60" y1="131.50" x2="225.60" y2="132.70" stroke="#888" stroke-width="0.50" stroke-linecap="butt"/>
<line x1="228.60" y1="131.50" x2="228.60" y2="132.70" stroke="#888" stroke-width="0.50" stroke-linecap="butt"/>
<line x1="231.60" y1="131.50" x2="231.60" y2="132.70" stroke="#888" stroke-width="0.50" stroke-linecap="butt"/>
<line x1="234.60" y1="131.50" x2="234.60" y2="132.70" stroke="#888" stroke-width="0.50" stroke-linecap="butt"/>
<line x1="237.60" y1="131.50" x2="237.60" y2="132.70" stroke="#888" stroke-width="0.50" stroke-linecap="butt"/>
<line x1="240.60" y1="131.50" x2="240.60" y2="132.70" stroke="#888" stroke-width="0.50" stroke-linecap="butt"/>
<line x1="243.60" y1="131.50" x2="243.60" y2="132.70" stroke="#888" stroke-width="0.50" stroke-linecap="butt"/>
<line x1="246.60" y1="131.50" x2="246.60" y2="132.70" stroke="#888" stroke-width="0.50" stroke-linecap="butt"/>
<line x1="249.60" y1="131.50" x2="249.60" y2="132.70" stroke="#888" stroke-width="0.50" stroke-linecap="butt"/>
<line x1="252.60" y1="131.50" x2="252.60" y2="132.70" stroke="#888" stroke-width="0.50" stroke-linecap="butt"/>
<line x1="255.60" y1="131.50" x2="255.60" y2="132.70" stroke="#888" stroke-width="0.50" stroke-linecap="butt"/>
<line x1="258.60" y1="131.50" x2="258.60" y2="132.70" stroke="#888" stroke-width="0.50" stroke-linecap="butt"/>
<line x1="261.60" y1="131.50" x2="261.60" y2="132.70" stroke="#888" stroke-width="0.50" stroke-linecap="butt"/>
<line x1="264.60" y1="131.50" x2="264.60" y2="132.70" stroke="#888" stroke-width="0.50" stroke-linecap="butt"/>
<line x1="267.60" y1="131.50" x2="267.60" y2="132.70" stroke="#888" stroke-width="0.50" stroke-linecap="butt"/>
<line x1="270.60" y1="131.50" x2="270.60" y2="132.70" stroke="#888" stroke-width="0.50" stroke-linecap="butt"/>
<line x1="273.60" y1="131.50" x2="273.60" y2="132.70" stroke="#888" stroke-width="0.50" stroke-linecap="butt"/>
<line x1="276.60" y1="131.50" x2="276.60" y2="132.70" stroke="#888" stroke-width="0.50" stroke-linecap="butt"/>
<line x1="279.60" y1="131.50" x2="279.60" y2="132.70" stroke="#888" stroke-width="0.50" stroke-linecap="butt"/>
<line x1="282.60" y1="131.50" x2="282.60" y2="132.70" stroke="#888" stroke-width="0.50" stroke-linecap="butt"/>
<line x1="285.60" y1="131.50" x2="285.60" y2="132.70" stroke="#888" stroke-width="0.50" stroke-linecap="butt"/>
<line x1="288.60" y1="131.50" x2="288.60" y2="132.70" stroke="#888" stroke-width="0.50" stroke-linecap="butt"/>
<line x1="291.60" y1="131.50" x2="291.60" y2="132.70" stroke="#888" stroke-width="0.50" stroke-linecap="butt"/>
<text x="290.50" y="111.80" font-size="9.30" font-weight="bold" text-anchor="end" fill="#1a1a1a" stroke="#1a1a1a" stroke-width="0.40" stroke-linejoin="round" >12.83%</text>
<text x="337.90" y="34.90" font-size="11.30" font-weight="bold" text-anchor="middle" fill="#111" stroke="#111" stroke-width="0.30" stroke-linejoin="round" >IL-17<tspan dy="-4.07" font-size="7.68">-/-</tspan><tspan dy="4.07" font-size="11.30">​</tspan>+rmIL-17</text>
<rect x="313.6" y="73.3" width="1.4" height="1.4" fill="#d8d8d8"/>
<rect x="317.2" y="91.5" width="1.4" height="1.4" fill="#d8d8d8"/>
<rect x="316.8" y="91.9" width="1.4" height="1.4" fill="#d8d8d8"/>
<rect x="309.1" y="82.0" width="1.4" height="1.4" fill="#d8d8d8"/>
<rect x="304.5" y="87.9" width="1.4" height="1.4" fill="#d8d8d8"/>
<rect x="303.8" y="73.7" width="1.4" height="1.4" fill="#d8d8d8"/>
<rect x="306.1" y="76.1" width="1.4" height="1.4" fill="#d8d8d8"/>
<rect x="308.2" y="73.3" width="1.4" height="1.4" fill="#d8d8d8"/>
<rect x="302.8" y="75.8" width="1.4" height="1.4" fill="#d8d8d8"/>
<rect x="304.4" y="81.1" width="1.4" height="1.4" fill="#d8d8d8"/>
<rect x="326.1" y="127.6" width="1.3" height="1.3" fill="#d6d6d6"/>
<rect x="355.5" y="108.0" width="1.3" height="1.3" fill="#d6d6d6"/>
<rect x="337.4" y="113.4" width="1.3" height="1.3" fill="#d6d6d6"/>
<rect x="343.0" y="107.3" width="1.3" height="1.3" fill="#d6d6d6"/>
<rect x="367.2" y="130.8" width="1.3" height="1.3" fill="#d6d6d6"/>
<rect x="348.1" y="117.1" width="1.3" height="1.3" fill="#d6d6d6"/>
<rect x="329.1" y="106.8" width="1.3" height="1.3" fill="#d6d6d6"/>
<rect x="341.9" y="111.1" width="1.3" height="1.3" fill="#d6d6d6"/>
<rect x="366.2" y="108.4" width="1.3" height="1.3" fill="#d6d6d6"/>
<g transform="translate(294.80,0)">
<clipPath id="cp3"><rect x="0.3" y="43.6" width="88.0" height="87.7"/></clipPath>
<g clip-path="url(#cp3)">
<path d="M-0.12,112.54 C1.23,112.38 2.87,112.11 4.11,111.90 C5.35,111.68 6.46,111.79 7.32,111.26 C8.18,110.72 8.39,109.50 9.25,108.69 C10.10,107.88 11.45,106.93 12.46,106.38 C13.46,105.82 14.53,105.82 15.28,105.35 C16.03,104.88 16.39,103.55 16.95,103.55 C17.50,103.55 17.76,104.97 18.62,105.35 C19.47,105.74 21.08,105.69 22.08,105.86 C23.09,106.04 24.07,105.80 24.65,106.38 C25.23,106.96 25.23,108.47 25.55,109.33 C25.87,110.19 25.76,110.98 26.58,111.51 C27.39,112.05 29.25,112.58 30.43,112.54 C31.60,112.50 32.78,111.58 33.64,111.26 C34.49,110.93 34.92,110.44 35.56,110.61 C36.20,110.78 36.74,111.88 37.49,112.28 C38.24,112.69 39.20,112.90 40.05,113.05 C40.91,113.20 42.13,113.59 42.62,113.18 C43.11,112.77 42.79,111.19 43.01,110.61 C43.22,110.04 43.01,109.82 43.91,109.72 C44.80,109.61 47.33,109.72 48.40,109.97 C49.47,110.23 49.79,110.66 50.32,111.26 C50.86,111.85 50.86,112.92 51.61,113.57 C52.36,114.21 53.96,114.53 54.82,115.11 C55.67,115.68 56.27,116.07 56.74,117.03 C57.21,117.99 57.75,119.88 57.64,120.88 C57.53,121.89 56.89,122.49 56.10,123.07 C55.31,123.64 54.18,124.01 52.89,124.35 C51.61,124.69 49.79,124.88 48.40,125.12 C47.01,125.35 46.05,125.68 44.55,125.76 C43.05,125.85 40.91,125.65 39.41,125.63 C37.92,125.61 36.85,125.57 35.56,125.63 C34.28,125.70 32.89,125.89 31.71,126.02 C30.53,126.15 29.57,126.12 28.50,126.40 C27.43,126.68 26.36,127.17 25.29,127.69 C24.22,128.20 23.15,128.91 22.08,129.48 C21.01,130.06 19.66,130.32 18.87,131.15 C18.09,131.99 21.19,133.94 17.37,134.50 C13.56,135.06 -0.44,138.11 -4.00,134.50 C-7.56,130.89 -4.65,116.50 -4.00,112.84 C-3.35,109.18 -1.48,112.70 -0.12,112.54 Z" fill="#b4b4b4" stroke="#000" stroke-width="2.1" stroke-linejoin="round"/>
<ellipse cx="38.8" cy="119.6" rx="5.8" ry="3.1" fill="#444" filter="url(#bl2)"/>
<ellipse cx="49.7" cy="119.6" rx="3.9" ry="2.6" fill="#555" filter="url(#bl2)"/>
<path d="M43.0,110.2 L49.6,109.7 L50.6,113.3 L43.0,113.3 Z" fill="#000"/>
<ellipse cx="7" cy="120.5" rx="19.5" ry="9.2" fill="#636363" filter="url(#bl2)"/>
<ellipse cx="7.6" cy="120.5" rx="13.8" ry="6.0" fill="#464646" stroke="#000" stroke-width="1.5"/>
<ellipse cx="9.6" cy="120.5" rx="10.6" ry="4.4" fill="#808080" stroke="none" stroke-width="0.0"/>
<ellipse cx="11.4" cy="120.5" rx="7.8" ry="3.2" fill="#858585" stroke="#dcdcdc" stroke-width="0.7"/>
<ellipse cx="12.0" cy="120.5" rx="5.0" ry="1.9" fill="#707070" stroke="#d8d8d8" stroke-width="0.6"/>
<ellipse cx="12.9" cy="120.5" rx="1.9" ry="0.9" fill="#111" stroke="none" stroke-width="0.0"/>
<path d="M-0.12,112.54 C1.23,112.38 2.87,112.11 4.11,111.90 C5.35,111.68 6.46,111.79 7.32,111.26 C8.18,110.72 8.39,109.50 9.25,108.69 C10.10,107.88 11.45,106.93 12.46,106.38 C13.46,105.82 14.53,105.82 15.28,105.35 C16.03,104.88 16.39,103.55 16.95,103.55 C17.50,103.55 17.76,104.97 18.62,105.35 C19.47,105.74 21.08,105.69 22.08,105.86 C23.09,106.04 24.07,105.80 24.65,106.38 C25.23,106.96 25.23,108.47 25.55,109.33 C25.87,110.19 25.76,110.98 26.58,111.51 C27.39,112.05 29.25,112.58 30.43,112.54 C31.60,112.50 32.78,111.58 33.64,111.26 C34.49,110.93 34.92,110.44 35.56,110.61 C36.20,110.78 36.74,111.88 37.49,112.28 C38.24,112.69 39.20,112.90 40.05,113.05 C40.91,113.20 42.13,113.59 42.62,113.18 C43.11,112.77 42.79,111.19 43.01,110.61 C43.22,110.04 43.01,109.82 43.91,109.72 C44.80,109.61 47.33,109.72 48.40,109.97 C49.47,110.23 49.79,110.66 50.32,111.26 C50.86,111.85 50.86,112.92 51.61,113.57 C52.36,114.21 53.96,114.53 54.82,115.11 C55.67,115.68 56.27,116.07 56.74,117.03 C57.21,117.99 57.75,119.88 57.64,120.88 C57.53,121.89 56.89,122.49 56.10,123.07 C55.31,123.64 54.18,124.01 52.89,124.35 C51.61,124.69 49.79,124.88 48.40,125.12 C47.01,125.35 46.05,125.68 44.55,125.76 C43.05,125.85 40.91,125.65 39.41,125.63 C37.92,125.61 36.85,125.57 35.56,125.63 C34.28,125.70 32.89,125.89 31.71,126.02 C30.53,126.15 29.57,126.12 28.50,126.40 C27.43,126.68 26.36,127.17 25.29,127.69 C24.22,128.20 23.15,128.91 22.08,129.48 C21.01,130.06 19.66,130.32 18.87,131.15 C18.09,131.99 21.19,133.94 17.37,134.50 C13.56,135.06 -0.44,138.11 -4.00,134.50 C-7.56,130.89 -4.65,116.50 -4.00,112.84 C-3.35,109.18 -1.48,112.70 -0.12,112.54 Z" fill="none" stroke="#000" stroke-width="2.0" stroke-linejoin="round"/>
</g></g>
<rect x="294.80" y="43.60" width="88.60" height="87.90" fill="none" stroke="#4a4a4a" stroke-width="1.10"/>
<line x1="321.20" y1="43.60" x2="321.20" y2="131.50" stroke="#808080" stroke-width="1.00" stroke-linecap="butt"/>
<line x1="294.80" y1="102.60" x2="383.40" y2="102.60" stroke="#808080" stroke-width="1.00" stroke-linecap="butt"/>
<line x1="293.60" y1="45.60" x2="294.80" y2="45.60" stroke="#888" stroke-width="0.50" stroke-linecap="butt"/>
<line x1="293.60" y1="48.60" x2="294.80" y2="48.60" stroke="#888" stroke-width="0.50" stroke-linecap="butt"/>
<line x1="293.60" y1="51.60" x2="294.80" y2="51.60" stroke="#888" stroke-width="0.50" stroke-linecap="butt"/>
<line x1="293.60" y1="54.60" x2="294.80" y2="54.60" stroke="#888" stroke-width="0.50" stroke-linecap="butt"/>
<line x1="293.60" y1="57.60" x2="294.80" y2="57.60" stroke="#888" stroke-width="0.50" stroke-linecap="butt"/>
<line x1="293.60" y1="60.60" x2="294.80" y2="60.60" stroke="#888" stroke-width="0.50" stroke-linecap="butt"/>
<line x1="293.60" y1="63.60" x2="294.80" y2="63.60" stroke="#888" stroke-width="0.50" stroke-linecap="butt"/>
<line x1="293.60" y1="66.60" x2="294.80" y2="66.60" stroke="#888" stroke-width="0.50" stroke-linecap="butt"/>
<line x1="293.60" y1="69.60" x2="294.80" y2="69.60" stroke="#888" stroke-width="0.50" stroke-linecap="butt"/>
<line x1="293.60" y1="72.60" x2="294.80" y2="72.60" stroke="#888" stroke-width="0.50" stroke-linecap="butt"/>
<line x1="293.60" y1="75.60" x2="294.80" y2="75.60" stroke="#888" stroke-width="0.50" stroke-linecap="butt"/>
<line x1="293.60" y1="78.60" x2="294.80" y2="78.60" stroke="#888" stroke-width="0.50" stroke-linecap="butt"/>
<line x1="293.60" y1="81.60" x2="294.80" y2="81.60" stroke="#888" stroke-width="0.50" stroke-linecap="butt"/>
<line x1="293.60" y1="84.60" x2="294.80" y2="84.60" stroke="#888" stroke-width="0.50" stroke-linecap="butt"/>
<line x1="293.60" y1="87.60" x2="294.80" y2="87.60" stroke="#888" stroke-width="0.50" stroke-linecap="butt"/>
<line x1="293.60" y1="90.60" x2="294.80" y2="90.60" stroke="#888" stroke-width="0.50" stroke-linecap="butt"/>
<line x1="293.60" y1="93.60" x2="294.80" y2="93.60" stroke="#888" stroke-width="0.50" stroke-linecap="butt"/>
<line x1="293.60" y1="96.60" x2="294.80" y2="96.60" stroke="#888" stroke-width="0.50" stroke-linecap="butt"/>
<line x1="293.60" y1="99.60" x2="294.80" y2="99.60" stroke="#888" stroke-width="0.50" stroke-linecap="butt"/>
<line x1="293.60" y1="102.60" x2="294.80" y2="102.60" stroke="#888" stroke-width="0.50" stroke-linecap="butt"/>
<line x1="293.60" y1="105.60" x2="294.80" y2="105.60" stroke="#888" stroke-width="0.50" stroke-linecap="butt"/>
<line x1="293.60" y1="108.60" x2="294.80" y2="108.60" stroke="#888" stroke-width="0.50" stroke-linecap="butt"/>
<line x1="293.60" y1="111.60" x2="294.80" y2="111.60" stroke="#888" stroke-width="0.50" stroke-linecap="butt"/>
<line x1="293.60" y1="114.60" x2="294.80" y2="114.60" stroke="#888" stroke-width="0.50" stroke-linecap="butt"/>
<line x1="293.60" y1="117.60" x2="294.80" y2="117.60" stroke="#888" stroke-width="0.50" stroke-linecap="butt"/>
<line x1="293.60" y1="120.60" x2="294.80" y2="120.60" stroke="#888" stroke-width="0.50" stroke-linecap="butt"/>
<line x1="293.60" y1="123.60" x2="294.80" y2="123.60" stroke="#888" stroke-width="0.50" stroke-linecap="butt"/>
<line x1="293.60" y1="126.60" x2="294.80" y2="126.60" stroke="#888" stroke-width="0.50" stroke-linecap="butt"/>
<line x1="293.60" y1="129.60" x2="294.80" y2="129.60" stroke="#888" stroke-width="0.50" stroke-linecap="butt"/>
<line x1="295.80" y1="131.50" x2="295.80" y2="132.70" stroke="#888" stroke-width="0.50" stroke-linecap="butt"/>
<line x1="298.80" y1="131.50" x2="298.80" y2="132.70" stroke="#888" stroke-width="0.50" stroke-linecap="butt"/>
<line x1="301.80" y1="131.50" x2="301.80" y2="132.70" stroke="#888" stroke-width="0.50" stroke-linecap="butt"/>
<line x1="304.80" y1="131.50" x2="304.80" y2="132.70" stroke="#888" stroke-width="0.50" stroke-linecap="butt"/>
<line x1="307.80" y1="131.50" x2="307.80" y2="132.70" stroke="#888" stroke-width="0.50" stroke-linecap="butt"/>
<line x1="310.80" y1="131.50" x2="310.80" y2="132.70" stroke="#888" stroke-width="0.50" stroke-linecap="butt"/>
<line x1="313.80" y1="131.50" x2="313.80" y2="132.70" stroke="#888" stroke-width="0.50" stroke-linecap="butt"/>
<line x1="316.80" y1="131.50" x2="316.80" y2="132.70" stroke="#888" stroke-width="0.50" stroke-linecap="butt"/>
<line x1="319.80" y1="131.50" x2="319.80" y2="132.70" stroke="#888" stroke-width="0.50" stroke-linecap="butt"/>
<line x1="322.80" y1="131.50" x2="322.80" y2="132.70" stroke="#888" stroke-width="0.50" stroke-linecap="butt"/>
<line x1="325.80" y1="131.50" x2="325.80" y2="132.70" stroke="#888" stroke-width="0.50" stroke-linecap="butt"/>
<line x1="328.80" y1="131.50" x2="328.80" y2="132.70" stroke="#888" stroke-width="0.50" stroke-linecap="butt"/>
<line x1="331.80" y1="131.50" x2="331.80" y2="132.70" stroke="#888" stroke-width="0.50" stroke-linecap="butt"/>
<line x1="334.80" y1="131.50" x2="334.80" y2="132.70" stroke="#888" stroke-width="0.50" stroke-linecap="butt"/>
<line x1="337.80" y1="131.50" x2="337.80" y2="132.70" stroke="#888" stroke-width="0.50" stroke-linecap="butt"/>
<line x1="340.80" y1="131.50" x2="340.80" y2="132.70" stroke="#888" stroke-width="0.50" stroke-linecap="butt"/>
<line x1="343.80" y1="131.50" x2="343.80" y2="132.70" stroke="#888" stroke-width="0.50" stroke-linecap="butt"/>
<line x1="346.80" y1="131.50" x2="346.80" y2="132.70" stroke="#888" stroke-width="0.50" stroke-linecap="butt"/>
<line x1="349.80" y1="131.50" x2="349.80" y2="132.70" stroke="#888" stroke-width="0.50" stroke-linecap="butt"/>
<line x1="352.80" y1="131.50" x2="352.80" y2="132.70" stroke="#888" stroke-width="0.50" stroke-linecap="butt"/>
<line x1="355.80" y1="131.50" x2="355.80" y2="132.70" stroke="#888" stroke-width="0.50" stroke-linecap="butt"/>
<line x1="358.80" y1="131.50" x2="358.80" y2="132.70" stroke="#888" stroke-width="0.50" stroke-linecap="butt"/>
<line x1="361.80" y1="131.50" x2="361.80" y2="132.70" stroke="#888" stroke-width="0.50" stroke-linecap="butt"/>
<line x1="364.80" y1="131.50" x2="364.80" y2="132.70" stroke="#888" stroke-width="0.50" stroke-linecap="butt"/>
<line x1="367.80" y1="131.50" x2="367.80" y2="132.70" stroke="#888" stroke-width="0.50" stroke-linecap="butt"/>
<line x1="370.80" y1="131.50" x2="370.80" y2="132.70" stroke="#888" stroke-width="0.50" stroke-linecap="butt"/>
<line x1="373.80" y1="131.50" x2="373.80" y2="132.70" stroke="#888" stroke-width="0.50" stroke-linecap="butt"/>
<line x1="376.80" y1="131.50" x2="376.80" y2="132.70" stroke="#888" stroke-width="0.50" stroke-linecap="butt"/>
<line x1="379.80" y1="131.50" x2="379.80" y2="132.70" stroke="#888" stroke-width="0.50" stroke-linecap="butt"/>
<line x1="382.80" y1="131.50" x2="382.80" y2="132.70" stroke="#888" stroke-width="0.50" stroke-linecap="butt"/>
<text x="380.70" y="111.80" font-size="9.30" font-weight="bold" text-anchor="end" fill="#1a1a1a" stroke="#1a1a1a" stroke-width="0.40" stroke-linejoin="round" >7.32%</text>
<text x="10.30" y="125.60" font-size="10.40" font-weight="bold" text-anchor="start" fill="#111" stroke="#111" stroke-width="0.35" stroke-linejoin="round" transform="rotate(-90 10.30 125.60)" textLength="24.8" lengthAdjust="spacingAndGlyphs">IL-17</text>
<line x1="8.00" y1="89.90" x2="8.00" y2="52.00" stroke="#111" stroke-width="1.30" stroke-linecap="butt"/>
<path d="M8,45.6 L12.2,54.9 L8,52.4 L3.8,54.9 Z" fill="#111" stroke="#111" stroke-width="0.5" stroke-linejoin="round"/>
<text x="37.40" y="144.80" font-size="10.80" font-weight="bold" text-anchor="start" fill="#111" stroke="#111" stroke-width="0.35" stroke-linejoin="round" textLength="27.4" lengthAdjust="spacingAndGlyphs">IFN-γ</text>
<line x1="77.20" y1="142.30" x2="375.00" y2="142.30" stroke="#111" stroke-width="1.30" stroke-linecap="butt"/>
<path d="M383.0,142.3 L369.6,137.4 L373.8,142.3 L369.6,147.2 Z" fill="#111" stroke="#111" stroke-width="0.5" stroke-linejoin="round"/>
<line x1="66.50" y1="229.50" x2="66.50" y2="232.50" stroke="#444" stroke-width="0.90" stroke-linecap="butt"/>
<line x1="60.70" y1="229.50" x2="72.30" y2="229.50" stroke="#6a6a6a" stroke-width="0.95" stroke-linecap="butt"/>
<rect x="54.40" y="231.50" width="24.20" height="48.80" fill="#050505" stroke="none" stroke-width="0.00"/>
<line x1="101.90" y1="201.40" x2="101.90" y2="203.00" stroke="#444" stroke-width="0.90" stroke-linecap="butt"/>
<line x1="96.10" y1="201.40" x2="107.70" y2="201.40" stroke="#6a6a6a" stroke-width="0.95" stroke-linecap="butt"/>
<rect x="89.80" y="202.00" width="24.20" height="78.30" fill="#050505" stroke="none" stroke-width="0.00"/>
<line x1="137.70" y1="198.10" x2="137.70" y2="202.30" stroke="#444" stroke-width="0.90" stroke-linecap="butt"/>
<line x1="131.90" y1="198.10" x2="143.50" y2="198.10" stroke="#6a6a6a" stroke-width="0.95" stroke-linecap="butt"/>
<rect x="125.60" y="201.30" width="24.20" height="79.00" fill="#050505" stroke="none" stroke-width="0.00"/>
<line x1="172.70" y1="228.40" x2="172.70" y2="231.80" stroke="#444" stroke-width="0.90" stroke-linecap="butt"/>
<line x1="166.90" y1="228.40" x2="178.50" y2="228.40" stroke="#6a6a6a" stroke-width="0.95" stroke-linecap="butt"/>
<rect x="160.60" y="230.80" width="24.20" height="49.50" fill="#050505" stroke="none" stroke-width="0.00"/>
<line x1="49.10" y1="184.00" x2="49.10" y2="280.60" stroke="#111" stroke-width="1.20" stroke-linecap="butt"/>
<line x1="48.50" y1="280.00" x2="190.50" y2="280.00" stroke="#111" stroke-width="1.20" stroke-linecap="butt"/>
<line x1="46.10" y1="184.50" x2="49.10" y2="184.50" stroke="#111" stroke-width="1.10" stroke-linecap="butt"/>
<text x="43.70" y="186.84" font-size="6.50" font-weight="bold" text-anchor="end" fill="#111" stroke="#111" stroke-width="0.20" stroke-linejoin="round" >15</text>
<line x1="46.10" y1="216.30" x2="49.10" y2="216.30" stroke="#111" stroke-width="1.10" stroke-linecap="butt"/>
<text x="43.70" y="218.64" font-size="6.50" font-weight="bold" text-anchor="end" fill="#111" stroke="#111" stroke-width="0.20" stroke-linejoin="round" >10</text>
<line x1="46.10" y1="248.10" x2="49.10" y2="248.10" stroke="#111" stroke-width="1.10" stroke-linecap="butt"/>
<text x="43.70" y="250.44" font-size="6.50" font-weight="bold" text-anchor="end" fill="#111" stroke="#111" stroke-width="0.20" stroke-linejoin="round" >5</text>
<line x1="46.10" y1="280.00" x2="49.10" y2="280.00" stroke="#111" stroke-width="1.10" stroke-linecap="butt"/>
<text x="43.70" y="282.34" font-size="6.50" font-weight="bold" text-anchor="end" fill="#111" stroke="#111" stroke-width="0.20" stroke-linejoin="round" >0</text>
<line x1="66.50" y1="280.00" x2="66.50" y2="283.20" stroke="#111" stroke-width="1.10" stroke-linecap="butt"/>
<text x="67.80" y="288.70" font-size="7.30" font-weight="bold" text-anchor="end" fill="#111" stroke="#111" stroke-width="0.25" stroke-linejoin="round" transform="rotate(-45 67.80 288.70)" >WT+IgG</text>
<line x1="101.90" y1="280.00" x2="101.90" y2="283.20" stroke="#111" stroke-width="1.10" stroke-linecap="butt"/>
<text x="103.20" y="288.70" font-size="7.30" font-weight="bold" text-anchor="end" fill="#111" stroke="#111" stroke-width="0.25" stroke-linejoin="round" transform="rotate(-45 103.20 288.70)" >WT+anti-IL-17</text>
<line x1="137.70" y1="280.00" x2="137.70" y2="283.20" stroke="#111" stroke-width="1.10" stroke-linecap="butt"/>
<text x="139.00" y="288.70" font-size="7.30" font-weight="bold" text-anchor="end" fill="#111" stroke="#111" stroke-width="0.25" stroke-linejoin="round" transform="rotate(-45 139.00 288.70)" >IL-17<tspan dy="-2.52" font-size="4.76">-/-</tspan><tspan dy="2.52" font-size="7.00">​</tspan>+IgG</text>
<line x1="172.70" y1="280.00" x2="172.70" y2="283.20" stroke="#111" stroke-width="1.10" stroke-linecap="butt"/>
<text x="174.00" y="288.70" font-size="7.30" font-weight="bold" text-anchor="end" fill="#111" stroke="#111" stroke-width="0.25" stroke-linejoin="round" transform="rotate(-45 174.00 288.70)" >IL-17<tspan dy="-2.52" font-size="4.76">-/-</tspan><tspan dy="2.52" font-size="7.00">​</tspan>+rmIL-17</text>
<text x="31.40" y="232.25" font-size="8.00" font-weight="bold" text-anchor="middle" fill="#111" stroke="#111" stroke-width="0.30" stroke-linejoin="round" transform="rotate(-90 31.40 232.25)" >% of IFN-γ<tspan dy="-2.88" font-size="5.44">+</tspan><tspan dy="2.88" font-size="8.00">​</tspan>CD4<tspan dy="-2.88" font-size="5.44">+</tspan><tspan dy="2.88" font-size="8.00">​</tspan>T cells</text>
<text x="107.30" y="170.90" font-size="11.60" font-weight="bold" text-anchor="middle" fill="#111" stroke="#111" stroke-width="0.30" stroke-linejoin="round" >Donor Mφ</text>
<line x1="63.20" y1="187.10" x2="137.80" y2="187.10" stroke="#7a7a7a" stroke-width="1.35" stroke-linecap="butt"/>
<text x="100.97" y="189.10" font-size="10.40" font-weight="bold" text-anchor="middle" fill="#111" stroke="#111" stroke-width="0.20" stroke-linejoin="round" letter-spacing="0.75">*</text>
<line x1="63.20" y1="195.60" x2="100.60" y2="195.60" stroke="#7a7a7a" stroke-width="1.35" stroke-linecap="butt"/>
<text x="80.78" y="197.30" font-size="10.40" font-weight="bold" text-anchor="middle" fill="#111" stroke="#111" stroke-width="0.20" stroke-linejoin="round" letter-spacing="0.75">**</text>
<line x1="138.60" y1="195.60" x2="176.10" y2="195.60" stroke="#7a7a7a" stroke-width="1.35" stroke-linecap="butt"/>
<text x="156.47" y="197.70" font-size="10.40" font-weight="bold" text-anchor="middle" fill="#111" stroke="#111" stroke-width="0.20" stroke-linejoin="round" letter-spacing="0.75">*</text>
<rect x="244.90" y="246.70" width="24.00" height="33.60" fill="#050505" stroke="none" stroke-width="0.00"/>
<rect x="280.10" y="211.20" width="24.00" height="69.10" fill="#050505" stroke="none" stroke-width="0.00"/>
<line x1="327.30" y1="205.30" x2="327.30" y2="213.80" stroke="#444" stroke-width="0.90" stroke-linecap="butt"/>
<line x1="321.50" y1="205.30" x2="333.10" y2="205.30" stroke="#6a6a6a" stroke-width="0.95" stroke-linecap="butt"/>
<rect x="315.30" y="212.80" width="24.00" height="67.50" fill="#050505" stroke="none" stroke-width="0.00"/>
<rect x="350.40" y="227.70" width="24.00" height="52.60" fill="#050505" stroke="none" stroke-width="0.00"/>
<line x1="239.60" y1="184.00" x2="239.60" y2="280.60" stroke="#111" stroke-width="1.20" stroke-linecap="butt"/>
<line x1="239.00" y1="280.00" x2="381.00" y2="280.00" stroke="#111" stroke-width="1.20" stroke-linecap="butt"/>
<line x1="236.60" y1="184.50" x2="239.60" y2="184.50" stroke="#111" stroke-width="1.10" stroke-linecap="butt"/>
<text x="234.20" y="186.84" font-size="6.50" font-weight="bold" text-anchor="end" fill="#111" stroke="#111" stroke-width="0.20" stroke-linejoin="round" >150</text>
<line x1="236.60" y1="216.30" x2="239.60" y2="216.30" stroke="#111" stroke-width="1.10" stroke-linecap="butt"/>
<text x="234.20" y="218.64" font-size="6.50" font-weight="bold" text-anchor="end" fill="#111" stroke="#111" stroke-width="0.20" stroke-linejoin="round" >100</text>
<line x1="236.60" y1="248.10" x2="239.60" y2="248.10" stroke="#111" stroke-width="1.10" stroke-linecap="butt"/>
<text x="234.20" y="250.44" font-size="6.50" font-weight="bold" text-anchor="end" fill="#111" stroke="#111" stroke-width="0.20" stroke-linejoin="round" >50</text>
<line x1="236.60" y1="280.00" x2="239.60" y2="280.00" stroke="#111" stroke-width="1.10" stroke-linecap="butt"/>
<text x="234.20" y="282.34" font-size="6.50" font-weight="bold" text-anchor="end" fill="#111" stroke="#111" stroke-width="0.20" stroke-linejoin="round" >0</text>
<line x1="256.90" y1="280.00" x2="256.90" y2="283.20" stroke="#111" stroke-width="1.10" stroke-linecap="butt"/>
<text x="258.20" y="288.70" font-size="7.30" font-weight="bold" text-anchor="end" fill="#111" stroke="#111" stroke-width="0.25" stroke-linejoin="round" transform="rotate(-45 258.20 288.70)" >WT+IgG</text>
<line x1="292.10" y1="280.00" x2="292.10" y2="283.20" stroke="#111" stroke-width="1.10" stroke-linecap="butt"/>
<text x="293.40" y="288.70" font-size="7.30" font-weight="bold" text-anchor="end" fill="#111" stroke="#111" stroke-width="0.25" stroke-linejoin="round" transform="rotate(-45 293.40 288.70)" >WT+anti-IL-17</text>
<line x1="327.30" y1="280.00" x2="327.30" y2="283.20" stroke="#111" stroke-width="1.10" stroke-linecap="butt"/>
<text x="328.60" y="288.70" font-size="7.30" font-weight="bold" text-anchor="end" fill="#111" stroke="#111" stroke-width="0.25" stroke-linejoin="round" transform="rotate(-45 328.60 288.70)" >IL-17<tspan dy="-2.52" font-size="4.76">-/-</tspan><tspan dy="2.52" font-size="7.00">​</tspan>+IgG</text>
<line x1="362.40" y1="280.00" x2="362.40" y2="283.20" stroke="#111" stroke-width="1.10" stroke-linecap="butt"/>
<text x="363.70" y="288.70" font-size="7.30" font-weight="bold" text-anchor="end" fill="#111" stroke="#111" stroke-width="0.25" stroke-linejoin="round" transform="rotate(-45 363.70 288.70)" >IL-17<tspan dy="-2.52" font-size="4.76">-/-</tspan><tspan dy="2.52" font-size="7.00">​</tspan>+rmIL-17</text>
<text x="218.60" y="232.90" font-size="7.50" font-weight="bold" text-anchor="middle" fill="#111" stroke="#111" stroke-width="0.30" stroke-linejoin="round" transform="rotate(-90 218.60 232.90)" >IFN-γ (pg/ml)</text>
<text x="300.90" y="170.90" font-size="11.60" font-weight="bold" text-anchor="middle" fill="#111" stroke="#111" stroke-width="0.30" stroke-linejoin="round" >Donor Mφ</text>
<line x1="253.90" y1="190.90" x2="327.60" y2="190.90" stroke="#7a7a7a" stroke-width="1.35" stroke-linecap="butt"/>
<text x="290.27" y="191.50" font-size="10.40" font-weight="bold" text-anchor="middle" fill="#111" stroke="#111" stroke-width="0.20" stroke-linejoin="round" letter-spacing="0.75">*</text>
<line x1="253.90" y1="204.60" x2="291.10" y2="204.60" stroke="#7a7a7a" stroke-width="1.35" stroke-linecap="butt"/>
<text x="271.48" y="205.50" font-size="10.40" font-weight="bold" text-anchor="middle" fill="#111" stroke="#111" stroke-width="0.20" stroke-linejoin="round" letter-spacing="0.75">***</text>
<line x1="327.60" y1="199.20" x2="364.80" y2="199.20" stroke="#7a7a7a" stroke-width="1.35" stroke-linecap="butt"/>
<text x="345.98" y="200.50" font-size="10.40" font-weight="bold" text-anchor="middle" fill="#111" stroke="#111" stroke-width="0.20" stroke-linejoin="round" letter-spacing="0.75">*</text>
<line x1="462.40" y1="40.30" x2="462.40" y2="42.60" stroke="#444" stroke-width="0.90" stroke-linecap="butt"/>
<line x1="456.60" y1="40.30" x2="468.20" y2="40.30" stroke="#6a6a6a" stroke-width="0.95" stroke-linecap="butt"/>
<rect x="450.40" y="41.60" width="24.00" height="75.50" fill="#050505" stroke="none" stroke-width="0.00"/>
<line x1="497.90" y1="41.80" x2="497.90" y2="43.60" stroke="#444" stroke-width="0.90" stroke-linecap="butt"/>
<line x1="492.10" y1="41.80" x2="503.70" y2="41.80" stroke="#6a6a6a" stroke-width="0.95" stroke-linecap="butt"/>
<rect x="485.90" y="42.60" width="24.00" height="74.50" fill="#050505" stroke="none" stroke-width="0.00"/>
<rect x="521.30" y="59.60" width="24.00" height="57.50" fill="#050505" stroke="none" stroke-width="0.00"/>
<line x1="568.70" y1="58.00" x2="568.70" y2="59.50" stroke="#444" stroke-width="0.90" stroke-linecap="butt"/>
<line x1="562.90" y1="58.00" x2="574.50" y2="58.00" stroke="#6a6a6a" stroke-width="0.95" stroke-linecap="butt"/>
<rect x="556.70" y="58.50" width="24.00" height="58.60" fill="#050505" stroke="none" stroke-width="0.00"/>
<line x1="443.90" y1="21.00" x2="443.90" y2="117.40" stroke="#111" stroke-width="1.20" stroke-linecap="butt"/>
<line x1="443.30" y1="116.80" x2="585.40" y2="116.80" stroke="#111" stroke-width="1.20" stroke-linecap="butt"/>
<line x1="440.90" y1="21.30" x2="443.90" y2="21.30" stroke="#111" stroke-width="1.10" stroke-linecap="butt"/>
<text x="438.50" y="23.64" font-size="6.50" font-weight="bold" text-anchor="end" fill="#111" stroke="#111" stroke-width="0.20" stroke-linejoin="round" >10</text>
<line x1="440.90" y1="40.50" x2="443.90" y2="40.50" stroke="#111" stroke-width="1.10" stroke-linecap="butt"/>
<text x="438.50" y="42.84" font-size="6.50" font-weight="bold" text-anchor="end" fill="#111" stroke="#111" stroke-width="0.20" stroke-linejoin="round" >8</text>
<line x1="440.90" y1="59.60" x2="443.90" y2="59.60" stroke="#111" stroke-width="1.10" stroke-linecap="butt"/>
<text x="438.50" y="61.94" font-size="6.50" font-weight="bold" text-anchor="end" fill="#111" stroke="#111" stroke-width="0.20" stroke-linejoin="round" >6</text>
<line x1="440.90" y1="78.80" x2="443.90" y2="78.80" stroke="#111" stroke-width="1.10" stroke-linecap="butt"/>
<text x="438.50" y="81.14" font-size="6.50" font-weight="bold" text-anchor="end" fill="#111" stroke="#111" stroke-width="0.20" stroke-linejoin="round" >4</text>
<line x1="440.90" y1="97.90" x2="443.90" y2="97.90" stroke="#111" stroke-width="1.10" stroke-linecap="butt"/>
<text x="438.50" y="100.24" font-size="6.50" font-weight="bold" text-anchor="end" fill="#111" stroke="#111" stroke-width="0.20" stroke-linejoin="round" >2</text>
<line x1="440.90" y1="116.80" x2="443.90" y2="116.80" stroke="#111" stroke-width="1.10" stroke-linecap="butt"/>
<text x="438.50" y="119.14" font-size="6.50" font-weight="bold" text-anchor="end" fill="#111" stroke="#111" stroke-width="0.20" stroke-linejoin="round" >0</text>
<line x1="462.40" y1="116.80" x2="462.40" y2="120.00" stroke="#111" stroke-width="1.10" stroke-linecap="butt"/>
<text x="463.70" y="125.50" font-size="7.30" font-weight="bold" text-anchor="end" fill="#111" stroke="#111" stroke-width="0.25" stroke-linejoin="round" transform="rotate(-45 463.70 125.50)" >WT+IgG</text>
<line x1="497.90" y1="116.80" x2="497.90" y2="120.00" stroke="#111" stroke-width="1.10" stroke-linecap="butt"/>
<text x="499.20" y="125.50" font-size="7.30" font-weight="bold" text-anchor="end" fill="#111" stroke="#111" stroke-width="0.25" stroke-linejoin="round" transform="rotate(-45 499.20 125.50)" >WT+anti-IL-17</text>
<line x1="533.30" y1="116.80" x2="533.30" y2="120.00" stroke="#111" stroke-width="1.10" stroke-linecap="butt"/>
<text x="534.60" y="125.50" font-size="7.30" font-weight="bold" text-anchor="end" fill="#111" stroke="#111" stroke-width="0.25" stroke-linejoin="round" transform="rotate(-45 534.60 125.50)" >IL-17<tspan dy="-2.52" font-size="4.76">-/-</tspan><tspan dy="2.52" font-size="7.00">​</tspan>+IgG</text>
<line x1="568.70" y1="116.80" x2="568.70" y2="120.00" stroke="#111" stroke-width="1.10" stroke-linecap="butt"/>
<text x="570.00" y="125.50" font-size="7.30" font-weight="bold" text-anchor="end" fill="#111" stroke="#111" stroke-width="0.25" stroke-linejoin="round" transform="rotate(-45 570.00 125.50)" >IL-17<tspan dy="-2.52" font-size="4.76">-/-</tspan><tspan dy="2.52" font-size="7.00">​</tspan>+rmIL-17</text>
<text x="426.30" y="69.15" font-size="8.00" font-weight="bold" text-anchor="middle" fill="#111" stroke="#111" stroke-width="0.30" stroke-linejoin="round" transform="rotate(-90 426.30 69.15)" >% of IFN-γ<tspan dy="-2.88" font-size="5.44">+</tspan><tspan dy="2.88" font-size="8.00">​</tspan>CD4<tspan dy="-2.88" font-size="5.44">+</tspan><tspan dy="2.88" font-size="8.00">​</tspan>T cells</text>
<text x="515.00" y="14.10" font-size="11.60" font-weight="bold" text-anchor="middle" fill="#111" stroke="#111" stroke-width="0.30" stroke-linejoin="round" >Host Mφ</text>
<line x1="653.70" y1="40.80" x2="653.70" y2="42.70" stroke="#444" stroke-width="0.90" stroke-linecap="butt"/>
<line x1="647.90" y1="40.80" x2="659.50" y2="40.80" stroke="#6a6a6a" stroke-width="0.95" stroke-linecap="butt"/>
<rect x="641.70" y="41.70" width="24.00" height="75.40" fill="#050505" stroke="none" stroke-width="0.00"/>
<rect x="677.10" y="32.80" width="24.00" height="84.30" fill="#050505" stroke="none" stroke-width="0.00"/>
<line x1="724.50" y1="42.50" x2="724.50" y2="50.70" stroke="#444" stroke-width="0.90" stroke-linecap="butt"/>
<line x1="718.70" y1="42.50" x2="730.30" y2="42.50" stroke="#6a6a6a" stroke-width="0.95" stroke-linecap="butt"/>
<rect x="712.50" y="49.70" width="24.00" height="67.40" fill="#050505" stroke="none" stroke-width="0.00"/>
<line x1="759.90" y1="39.30" x2="759.90" y2="44.20" stroke="#444" stroke-width="0.90" stroke-linecap="butt"/>
<line x1="754.10" y1="39.30" x2="765.70" y2="39.30" stroke="#6a6a6a" stroke-width="0.95" stroke-linecap="butt"/>
<rect x="747.90" y="43.20" width="24.00" height="73.90" fill="#050505" stroke="none" stroke-width="0.00"/>
<line x1="636.30" y1="21.00" x2="636.30" y2="117.40" stroke="#111" stroke-width="1.20" stroke-linecap="butt"/>
<line x1="635.70" y1="116.80" x2="779.50" y2="116.80" stroke="#111" stroke-width="1.20" stroke-linecap="butt"/>
<line x1="633.30" y1="21.30" x2="636.30" y2="21.30" stroke="#111" stroke-width="1.10" stroke-linecap="butt"/>
<text x="630.90" y="23.64" font-size="6.50" font-weight="bold" text-anchor="end" fill="#111" stroke="#111" stroke-width="0.20" stroke-linejoin="round" >10</text>
<line x1="633.30" y1="40.40" x2="636.30" y2="40.40" stroke="#111" stroke-width="1.10" stroke-linecap="butt"/>
<text x="630.90" y="42.74" font-size="6.50" font-weight="bold" text-anchor="end" fill="#111" stroke="#111" stroke-width="0.20" stroke-linejoin="round" >8</text>
<line x1="633.30" y1="59.50" x2="636.30" y2="59.50" stroke="#111" stroke-width="1.10" stroke-linecap="butt"/>
<text x="630.90" y="61.84" font-size="6.50" font-weight="bold" text-anchor="end" fill="#111" stroke="#111" stroke-width="0.20" stroke-linejoin="round" >6</text>
<line x1="633.30" y1="78.70" x2="636.30" y2="78.70" stroke="#111" stroke-width="1.10" stroke-linecap="butt"/>
<text x="630.90" y="81.04" font-size="6.50" font-weight="bold" text-anchor="end" fill="#111" stroke="#111" stroke-width="0.20" stroke-linejoin="round" >4</text>
<line x1="633.30" y1="97.80" x2="636.30" y2="97.80" stroke="#111" stroke-width="1.10" stroke-linecap="butt"/>
<text x="630.90" y="100.14" font-size="6.50" font-weight="bold" text-anchor="end" fill="#111" stroke="#111" stroke-width="0.20" stroke-linejoin="round" >2</text>
<line x1="633.30" y1="116.80" x2="636.30" y2="116.80" stroke="#111" stroke-width="1.10" stroke-linecap="butt"/>
<text x="630.90" y="119.14" font-size="6.50" font-weight="bold" text-anchor="end" fill="#111" stroke="#111" stroke-width="0.20" stroke-linejoin="round" >0</text>
<line x1="653.70" y1="116.80" x2="653.70" y2="120.00" stroke="#111" stroke-width="1.10" stroke-linecap="butt"/>
<text x="655.00" y="125.50" font-size="7.30" font-weight="bold" text-anchor="end" fill="#111" stroke="#111" stroke-width="0.25" stroke-linejoin="round" transform="rotate(-45 655.00 125.50)" >WT+IgG</text>
<line x1="689.10" y1="116.80" x2="689.10" y2="120.00" stroke="#111" stroke-width="1.10" stroke-linecap="butt"/>
<text x="690.40" y="125.50" font-size="7.30" font-weight="bold" text-anchor="end" fill="#111" stroke="#111" stroke-width="0.25" stroke-linejoin="round" transform="rotate(-45 690.40 125.50)" >WT+anti-IL-17</text>
<line x1="724.50" y1="116.80" x2="724.50" y2="120.00" stroke="#111" stroke-width="1.10" stroke-linecap="butt"/>
<text x="725.80" y="125.50" font-size="7.30" font-weight="bold" text-anchor="end" fill="#111" stroke="#111" stroke-width="0.25" stroke-linejoin="round" transform="rotate(-45 725.80 125.50)" >IL-17<tspan dy="-2.52" font-size="4.76">-/-</tspan><tspan dy="2.52" font-size="7.00">​</tspan>+IgG</text>
<line x1="759.90" y1="116.80" x2="759.90" y2="120.00" stroke="#111" stroke-width="1.10" stroke-linecap="butt"/>
<text x="761.20" y="125.50" font-size="7.30" font-weight="bold" text-anchor="end" fill="#111" stroke="#111" stroke-width="0.25" stroke-linejoin="round" transform="rotate(-45 761.20 125.50)" >IL-17<tspan dy="-2.52" font-size="4.76">-/-</tspan><tspan dy="2.52" font-size="7.00">​</tspan>+rmIL-17</text>
<text x="619.20" y="69.15" font-size="8.00" font-weight="bold" text-anchor="middle" fill="#111" stroke="#111" stroke-width="0.30" stroke-linejoin="round" transform="rotate(-90 619.20 69.15)" >% of IFN-γ<tspan dy="-2.88" font-size="5.44">+</tspan><tspan dy="2.88" font-size="8.00">​</tspan>CD4<tspan dy="-2.88" font-size="5.44">+</tspan><tspan dy="2.88" font-size="8.00">​</tspan>T cells</text>
<text x="699.70" y="13.90" font-size="11.60" font-weight="bold" text-anchor="middle" fill="#111" stroke="#111" stroke-width="0.30" stroke-linejoin="round" >Host DCs</text>
<rect x="450.50" y="217.60" width="24.00" height="74.60" fill="#050505" stroke="none" stroke-width="0.00"/>
<line x1="497.90" y1="216.90" x2="497.90" y2="219.40" stroke="#444" stroke-width="0.90" stroke-linecap="butt"/>
<line x1="492.10" y1="216.90" x2="503.70" y2="216.90" stroke="#6a6a6a" stroke-width="0.95" stroke-linecap="butt"/>
<rect x="485.90" y="218.40" width="24.00" height="73.80" fill="#050505" stroke="none" stroke-width="0.00"/>
<line x1="533.20" y1="219.70" x2="533.20" y2="225.00" stroke="#444" stroke-width="0.90" stroke-linecap="butt"/>
<line x1="527.40" y1="219.70" x2="539.00" y2="219.70" stroke="#6a6a6a" stroke-width="0.95" stroke-linecap="butt"/>
<rect x="521.20" y="224.00" width="24.00" height="68.20" fill="#050505" stroke="none" stroke-width="0.00"/>
<line x1="568.40" y1="210.70" x2="568.40" y2="213.80" stroke="#444" stroke-width="0.90" stroke-linecap="butt"/>
<line x1="562.60" y1="210.70" x2="574.20" y2="210.70" stroke="#6a6a6a" stroke-width="0.95" stroke-linecap="butt"/>
<rect x="556.40" y="212.80" width="24.00" height="79.40" fill="#050505" stroke="none" stroke-width="0.00"/>
<line x1="445.40" y1="199.40" x2="445.40" y2="292.50" stroke="#111" stroke-width="1.20" stroke-linecap="butt"/>
<line x1="444.80" y1="291.90" x2="585.40" y2="291.90" stroke="#111" stroke-width="1.20" stroke-linecap="butt"/>
<line x1="442.40" y1="199.90" x2="445.40" y2="199.90" stroke="#111" stroke-width="1.10" stroke-linecap="butt"/>
<text x="438.90" y="202.24" font-size="6.50" font-weight="bold" text-anchor="end" fill="#111" stroke="#111" stroke-width="0.20" stroke-linejoin="round" >1.0</text>
<line x1="442.40" y1="218.30" x2="445.40" y2="218.30" stroke="#111" stroke-width="1.10" stroke-linecap="butt"/>
<text x="438.90" y="220.64" font-size="6.50" font-weight="bold" text-anchor="end" fill="#111" stroke="#111" stroke-width="0.20" stroke-linejoin="round" >0.8</text>
<line x1="442.40" y1="236.70" x2="445.40" y2="236.70" stroke="#111" stroke-width="1.10" stroke-linecap="butt"/>
<text x="438.90" y="239.04" font-size="6.50" font-weight="bold" text-anchor="end" fill="#111" stroke="#111" stroke-width="0.20" stroke-linejoin="round" >0.6</text>
<line x1="442.40" y1="255.10" x2="445.40" y2="255.10" stroke="#111" stroke-width="1.10" stroke-linecap="butt"/>
<text x="438.90" y="257.44" font-size="6.50" font-weight="bold" text-anchor="end" fill="#111" stroke="#111" stroke-width="0.20" stroke-linejoin="round" >0.4</text>
<line x1="442.40" y1="273.50" x2="445.40" y2="273.50" stroke="#111" stroke-width="1.10" stroke-linecap="butt"/>
<text x="438.90" y="275.84" font-size="6.50" font-weight="bold" text-anchor="end" fill="#111" stroke="#111" stroke-width="0.20" stroke-linejoin="round" >0.2</text>
<line x1="442.40" y1="291.90" x2="445.40" y2="291.90" stroke="#111" stroke-width="1.10" stroke-linecap="butt"/>
<text x="438.90" y="294.24" font-size="6.50" font-weight="bold" text-anchor="end" fill="#111" stroke="#111" stroke-width="0.20" stroke-linejoin="round" >0.0</text>
<line x1="462.50" y1="291.90" x2="462.50" y2="295.10" stroke="#111" stroke-width="1.10" stroke-linecap="butt"/>
<text x="463.80" y="300.60" font-size="7.30" font-weight="bold" text-anchor="end" fill="#111" stroke="#111" stroke-width="0.25" stroke-linejoin="round" transform="rotate(-45 463.80 300.60)" >WT+IgG</text>
<line x1="497.90" y1="291.90" x2="497.90" y2="295.10" stroke="#111" stroke-width="1.10" stroke-linecap="butt"/>
<text x="499.20" y="300.60" font-size="7.30" font-weight="bold" text-anchor="end" fill="#111" stroke="#111" stroke-width="0.25" stroke-linejoin="round" transform="rotate(-45 499.20 300.60)" >WT+anti-IL-17</text>
<line x1="533.20" y1="291.90" x2="533.20" y2="295.10" stroke="#111" stroke-width="1.10" stroke-linecap="butt"/>
<text x="534.50" y="300.60" font-size="7.30" font-weight="bold" text-anchor="end" fill="#111" stroke="#111" stroke-width="0.25" stroke-linejoin="round" transform="rotate(-45 534.50 300.60)" >IL-17<tspan dy="-2.52" font-size="4.76">-/-</tspan><tspan dy="2.52" font-size="7.00">​</tspan>+IgG</text>
<line x1="568.40" y1="291.90" x2="568.40" y2="295.10" stroke="#111" stroke-width="1.10" stroke-linecap="butt"/>
<text x="569.70" y="300.60" font-size="7.30" font-weight="bold" text-anchor="end" fill="#111" stroke="#111" stroke-width="0.25" stroke-linejoin="round" transform="rotate(-45 569.70 300.60)" >IL-17<tspan dy="-2.52" font-size="4.76">-/-</tspan><tspan dy="2.52" font-size="7.00">​</tspan>+rmIL-17</text>
<text x="423.90" y="246.40" font-size="7.85" font-weight="bold" text-anchor="middle" fill="#111" stroke="#111" stroke-width="0.30" stroke-linejoin="round" transform="rotate(-90 423.90 246.40)" >% of IFN-γ<tspan dy="-2.88" font-size="5.44">+</tspan><tspan dy="2.88" font-size="8.00">​</tspan>CD4<tspan dy="-2.88" font-size="5.44">+</tspan><tspan dy="2.88" font-size="8.00">​</tspan>T cells</text>
<text x="514.80" y="196.30" font-size="11.60" font-weight="bold" text-anchor="middle" fill="#111" stroke="#111" stroke-width="0.30" stroke-linejoin="round" >Donor DCs</text>
<line x1="467.70" y1="412.40" x2="467.70" y2="416.00" stroke="#444" stroke-width="0.90" stroke-linecap="butt"/>
<line x1="461.90" y1="412.40" x2="473.50" y2="412.40" stroke="#6a6a6a" stroke-width="0.95" stroke-linecap="butt"/>
<rect x="455.70" y="415.00" width="24.00" height="47.60" fill="#050505" stroke="none" stroke-width="0.00"/>
<line x1="503.10" y1="432.40" x2="503.10" y2="436.50" stroke="#444" stroke-width="0.90" stroke-linecap="butt"/>
<line x1="497.30" y1="432.40" x2="508.90" y2="432.40" stroke="#6a6a6a" stroke-width="0.95" stroke-linecap="butt"/>
<rect x="491.10" y="435.50" width="24.00" height="27.10" fill="#050505" stroke="none" stroke-width="0.00"/>
<line x1="538.50" y1="381.60" x2="538.50" y2="385.90" stroke="#444" stroke-width="0.90" stroke-linecap="butt"/>
<line x1="532.70" y1="381.60" x2="544.30" y2="381.60" stroke="#6a6a6a" stroke-width="0.95" stroke-linecap="butt"/>
<rect x="526.50" y="384.90" width="24.00" height="77.70" fill="#050505" stroke="none" stroke-width="0.00"/>
<line x1="574.00" y1="428.30" x2="574.00" y2="433.70" stroke="#444" stroke-width="0.90" stroke-linecap="butt"/>
<line x1="568.20" y1="428.30" x2="579.80" y2="428.30" stroke="#6a6a6a" stroke-width="0.95" stroke-linecap="butt"/>
<rect x="562.00" y="432.70" width="24.00" height="29.90" fill="#050505" stroke="none" stroke-width="0.00"/>
<line x1="450.40" y1="368.00" x2="450.40" y2="462.90" stroke="#111" stroke-width="1.20" stroke-linecap="butt"/>
<line x1="449.80" y1="462.30" x2="591.30" y2="462.30" stroke="#111" stroke-width="1.20" stroke-linecap="butt"/>
<line x1="447.40" y1="368.50" x2="450.40" y2="368.50" stroke="#111" stroke-width="1.10" stroke-linecap="butt"/>
<text x="445.00" y="370.84" font-size="6.50" font-weight="bold" text-anchor="end" fill="#111" stroke="#111" stroke-width="0.20" stroke-linejoin="round" >15</text>
<line x1="447.40" y1="399.80" x2="450.40" y2="399.80" stroke="#111" stroke-width="1.10" stroke-linecap="butt"/>
<text x="445.00" y="402.14" font-size="6.50" font-weight="bold" text-anchor="end" fill="#111" stroke="#111" stroke-width="0.20" stroke-linejoin="round" >10</text>
<line x1="447.40" y1="431.20" x2="450.40" y2="431.20" stroke="#111" stroke-width="1.10" stroke-linecap="butt"/>
<text x="445.00" y="433.54" font-size="6.50" font-weight="bold" text-anchor="end" fill="#111" stroke="#111" stroke-width="0.20" stroke-linejoin="round" >5</text>
<line x1="447.40" y1="462.30" x2="450.40" y2="462.30" stroke="#111" stroke-width="1.10" stroke-linecap="butt"/>
<text x="445.00" y="464.64" font-size="6.50" font-weight="bold" text-anchor="end" fill="#111" stroke="#111" stroke-width="0.20" stroke-linejoin="round" >0</text>
<line x1="467.70" y1="462.30" x2="467.70" y2="465.50" stroke="#111" stroke-width="1.10" stroke-linecap="butt"/>
<text x="469.00" y="471.00" font-size="7.30" font-weight="bold" text-anchor="end" fill="#111" stroke="#111" stroke-width="0.25" stroke-linejoin="round" transform="rotate(-45 469.00 471.00)" >WT+IgG</text>
<line x1="503.10" y1="462.30" x2="503.10" y2="465.50" stroke="#111" stroke-width="1.10" stroke-linecap="butt"/>
<text x="504.40" y="471.00" font-size="7.30" font-weight="bold" text-anchor="end" fill="#111" stroke="#111" stroke-width="0.25" stroke-linejoin="round" transform="rotate(-45 504.40 471.00)" >WT+anti-IFN-γ</text>
<line x1="538.50" y1="462.30" x2="538.50" y2="465.50" stroke="#111" stroke-width="1.10" stroke-linecap="butt"/>
<text x="539.80" y="471.00" font-size="7.30" font-weight="bold" text-anchor="end" fill="#111" stroke="#111" stroke-width="0.25" stroke-linejoin="round" transform="rotate(-45 539.80 471.00)" >IL-17<tspan dy="-2.52" font-size="4.76">-/-</tspan><tspan dy="2.52" font-size="7.00">​</tspan>+IgG</text>
<line x1="574.00" y1="462.30" x2="574.00" y2="465.50" stroke="#111" stroke-width="1.10" stroke-linecap="butt"/>
<text x="575.30" y="471.00" font-size="7.30" font-weight="bold" text-anchor="end" fill="#111" stroke="#111" stroke-width="0.25" stroke-linejoin="round" transform="rotate(-45 575.30 471.00)" >IL-17<tspan dy="-2.52" font-size="4.76">-/-</tspan><tspan dy="2.52" font-size="7.00">​</tspan>+anti-IFN-γ</text>
<text x="431.90" y="415.90" font-size="7.92" font-weight="bold" text-anchor="middle" fill="#111" stroke="#111" stroke-width="0.30" stroke-linejoin="round" transform="rotate(-90 431.90 415.90)" >% of IFN-γ<tspan dy="-2.88" font-size="5.44">+</tspan><tspan dy="2.88" font-size="8.00">​</tspan>CD4<tspan dy="-2.88" font-size="5.44">+</tspan><tspan dy="2.88" font-size="8.00">​</tspan>T cells</text>
<line x1="463.90" y1="405.80" x2="501.60" y2="405.80" stroke="#7a7a7a" stroke-width="1.35" stroke-linecap="butt"/>
<text x="482.27" y="407.40" font-size="10.40" font-weight="bold" text-anchor="middle" fill="#111" stroke="#111" stroke-width="0.20" stroke-linejoin="round" letter-spacing="0.75">*</text>
<line x1="538.80" y1="377.30" x2="576.80" y2="377.30" stroke="#7a7a7a" stroke-width="1.35" stroke-linecap="butt"/>
<text x="555.77" y="378.50" font-size="10.40" font-weight="bold" text-anchor="middle" fill="#111" stroke="#111" stroke-width="0.20" stroke-linejoin="round" letter-spacing="0.75">*</text>
<rect x="642.60" y="429.90" width="24.00" height="32.70" fill="#050505" stroke="none" stroke-width="0.00"/>
<rect x="677.90" y="439.90" width="24.00" height="22.70" fill="#050505" stroke="none" stroke-width="0.00"/>
<line x1="725.00" y1="388.60" x2="725.00" y2="397.20" stroke="#444" stroke-width="0.90" stroke-linecap="butt"/>
<line x1="719.20" y1="388.60" x2="730.80" y2="388.60" stroke="#6a6a6a" stroke-width="0.95" stroke-linecap="butt"/>
<rect x="713.00" y="396.20" width="24.00" height="66.40" fill="#050505" stroke="none" stroke-width="0.00"/>
<rect x="748.00" y="433.30" width="24.00" height="29.30" fill="#050505" stroke="none" stroke-width="0.00"/>
<line x1="637.10" y1="367.90" x2="637.10" y2="462.90" stroke="#111" stroke-width="1.20" stroke-linecap="butt"/>
<line x1="636.50" y1="462.30" x2="778.00" y2="462.30" stroke="#111" stroke-width="1.20" stroke-linecap="butt"/>
<line x1="634.10" y1="368.40" x2="637.10" y2="368.40" stroke="#111" stroke-width="1.10" stroke-linecap="butt"/>
<text x="631.70" y="370.74" font-size="6.50" font-weight="bold" text-anchor="end" fill="#111" stroke="#111" stroke-width="0.20" stroke-linejoin="round" >150</text>
<line x1="634.10" y1="399.80" x2="637.10" y2="399.80" stroke="#111" stroke-width="1.10" stroke-linecap="butt"/>
<text x="631.70" y="402.14" font-size="6.50" font-weight="bold" text-anchor="end" fill="#111" stroke="#111" stroke-width="0.20" stroke-linejoin="round" >100</text>
<line x1="634.10" y1="431.20" x2="637.10" y2="431.20" stroke="#111" stroke-width="1.10" stroke-linecap="butt"/>
<text x="631.70" y="433.54" font-size="6.50" font-weight="bold" text-anchor="end" fill="#111" stroke="#111" stroke-width="0.20" stroke-linejoin="round" >50</text>
<line x1="634.10" y1="462.30" x2="637.10" y2="462.30" stroke="#111" stroke-width="1.10" stroke-linecap="butt"/>
<text x="631.70" y="464.64" font-size="6.50" font-weight="bold" text-anchor="end" fill="#111" stroke="#111" stroke-width="0.20" stroke-linejoin="round" >0</text>
<line x1="654.60" y1="462.30" x2="654.60" y2="465.50" stroke="#111" stroke-width="1.10" stroke-linecap="butt"/>
<text x="655.90" y="471.00" font-size="7.30" font-weight="bold" text-anchor="end" fill="#111" stroke="#111" stroke-width="0.25" stroke-linejoin="round" transform="rotate(-45 655.90 471.00)" >WT+IgG</text>
<line x1="689.90" y1="462.30" x2="689.90" y2="465.50" stroke="#111" stroke-width="1.10" stroke-linecap="butt"/>
<text x="691.20" y="471.00" font-size="7.30" font-weight="bold" text-anchor="end" fill="#111" stroke="#111" stroke-width="0.25" stroke-linejoin="round" transform="rotate(-45 691.20 471.00)" >WT+anti-IFN-γ</text>
<line x1="725.00" y1="462.30" x2="725.00" y2="465.50" stroke="#111" stroke-width="1.10" stroke-linecap="butt"/>
<text x="726.30" y="471.00" font-size="7.30" font-weight="bold" text-anchor="end" fill="#111" stroke="#111" stroke-width="0.25" stroke-linejoin="round" transform="rotate(-45 726.30 471.00)" >IL-17<tspan dy="-2.52" font-size="4.76">-/-</tspan><tspan dy="2.52" font-size="7.00">​</tspan>+IgG</text>
<line x1="760.00" y1="462.30" x2="760.00" y2="465.50" stroke="#111" stroke-width="1.10" stroke-linecap="butt"/>
<text x="761.30" y="471.00" font-size="7.30" font-weight="bold" text-anchor="end" fill="#111" stroke="#111" stroke-width="0.25" stroke-linejoin="round" transform="rotate(-45 761.30 471.00)" >IL-17<tspan dy="-2.52" font-size="4.76">-/-</tspan><tspan dy="2.52" font-size="7.00">​</tspan>+anti-IFN-γ</text>
<text x="615.30" y="416.20" font-size="7.45" font-weight="bold" text-anchor="middle" fill="#111" stroke="#111" stroke-width="0.30" stroke-linejoin="round" transform="rotate(-90 615.30 416.20)" >IFN-γ (pg/ml)</text>
<line x1="653.40" y1="418.80" x2="690.30" y2="418.80" stroke="#7a7a7a" stroke-width="1.35" stroke-linecap="butt"/>
<text x="669.48" y="420.10" font-size="10.40" font-weight="bold" text-anchor="middle" fill="#111" stroke="#111" stroke-width="0.20" stroke-linejoin="round" letter-spacing="0.75">**</text>
<line x1="724.40" y1="383.70" x2="760.80" y2="383.70" stroke="#7a7a7a" stroke-width="1.35" stroke-linecap="butt"/>
<text x="741.08" y="383.10" font-size="10.40" font-weight="bold" text-anchor="middle" fill="#111" stroke="#111" stroke-width="0.20" stroke-linejoin="round" letter-spacing="0.75">*</text>
<line x1="61.10" y1="586.00" x2="61.10" y2="589.50" stroke="#444" stroke-width="0.90" stroke-linecap="butt"/>
<line x1="55.30" y1="586.00" x2="66.90" y2="586.00" stroke="#6a6a6a" stroke-width="0.95" stroke-linecap="butt"/>
<rect x="49.10" y="588.50" width="24.00" height="47.70" fill="#050505" stroke="none" stroke-width="0.00"/>
<line x1="96.40" y1="600.10" x2="96.40" y2="603.20" stroke="#444" stroke-width="0.90" stroke-linecap="butt"/>
<line x1="90.60" y1="600.10" x2="102.20" y2="600.10" stroke="#6a6a6a" stroke-width="0.95" stroke-linecap="butt"/>
<rect x="84.40" y="602.20" width="24.00" height="34.00" fill="#050505" stroke="none" stroke-width="0.00"/>
<line x1="131.90" y1="555.20" x2="131.90" y2="559.50" stroke="#444" stroke-width="0.90" stroke-linecap="butt"/>
<line x1="126.10" y1="555.20" x2="137.70" y2="555.20" stroke="#6a6a6a" stroke-width="0.95" stroke-linecap="butt"/>
<rect x="119.90" y="558.50" width="24.00" height="77.70" fill="#050505" stroke="none" stroke-width="0.00"/>
<line x1="167.30" y1="585.00" x2="167.30" y2="586.70" stroke="#444" stroke-width="0.90" stroke-linecap="butt"/>
<line x1="161.50" y1="585.00" x2="173.10" y2="585.00" stroke="#6a6a6a" stroke-width="0.95" stroke-linecap="butt"/>
<rect x="155.30" y="585.70" width="24.00" height="50.50" fill="#050505" stroke="none" stroke-width="0.00"/>
<line x1="44.00" y1="541.30" x2="44.00" y2="636.50" stroke="#111" stroke-width="1.20" stroke-linecap="butt"/>
<line x1="43.40" y1="635.90" x2="185.60" y2="635.90" stroke="#111" stroke-width="1.20" stroke-linecap="butt"/>
<line x1="41.00" y1="541.80" x2="44.00" y2="541.80" stroke="#111" stroke-width="1.10" stroke-linecap="butt"/>
<text x="38.60" y="544.14" font-size="6.50" font-weight="bold" text-anchor="end" fill="#111" stroke="#111" stroke-width="0.20" stroke-linejoin="round" >15</text>
<line x1="41.00" y1="573.30" x2="44.00" y2="573.30" stroke="#111" stroke-width="1.10" stroke-linecap="butt"/>
<text x="38.60" y="575.64" font-size="6.50" font-weight="bold" text-anchor="end" fill="#111" stroke="#111" stroke-width="0.20" stroke-linejoin="round" >10</text>
<line x1="41.00" y1="604.80" x2="44.00" y2="604.80" stroke="#111" stroke-width="1.10" stroke-linecap="butt"/>
<text x="38.60" y="607.14" font-size="6.50" font-weight="bold" text-anchor="end" fill="#111" stroke="#111" stroke-width="0.20" stroke-linejoin="round" >5</text>
<line x1="41.00" y1="635.90" x2="44.00" y2="635.90" stroke="#111" stroke-width="1.10" stroke-linecap="butt"/>
<text x="38.60" y="638.24" font-size="6.50" font-weight="bold" text-anchor="end" fill="#111" stroke="#111" stroke-width="0.20" stroke-linejoin="round" >0</text>
<line x1="61.10" y1="635.90" x2="61.10" y2="639.10" stroke="#111" stroke-width="1.10" stroke-linecap="butt"/>
<text x="62.40" y="644.60" font-size="7.30" font-weight="bold" text-anchor="end" fill="#111" stroke="#111" stroke-width="0.25" stroke-linejoin="round" transform="rotate(-45 62.40 644.60)" >WT+IgG</text>
<line x1="96.40" y1="635.90" x2="96.40" y2="639.10" stroke="#111" stroke-width="1.10" stroke-linecap="butt"/>
<text x="97.70" y="644.60" font-size="7.30" font-weight="bold" text-anchor="end" fill="#111" stroke="#111" stroke-width="0.25" stroke-linejoin="round" transform="rotate(-45 97.70 644.60)" >WT+anti-IL-12</text>
<line x1="131.90" y1="635.90" x2="131.90" y2="639.10" stroke="#111" stroke-width="1.10" stroke-linecap="butt"/>
<text x="133.20" y="644.60" font-size="7.30" font-weight="bold" text-anchor="end" fill="#111" stroke="#111" stroke-width="0.25" stroke-linejoin="round" transform="rotate(-45 133.20 644.60)" >IL-17<tspan dy="-2.52" font-size="4.76">-/-</tspan><tspan dy="2.52" font-size="7.00">​</tspan>+IgG</text>
<line x1="167.30" y1="635.90" x2="167.30" y2="639.10" stroke="#111" stroke-width="1.10" stroke-linecap="butt"/>
<text x="168.60" y="644.60" font-size="7.30" font-weight="bold" text-anchor="end" fill="#111" stroke="#111" stroke-width="0.25" stroke-linejoin="round" transform="rotate(-45 168.60 644.60)" >IL-17<tspan dy="-2.52" font-size="4.76">-/-</tspan><tspan dy="2.52" font-size="7.00">​</tspan>+anti-IL-12</text>
<text x="26.30" y="588.85" font-size="8.00" font-weight="bold" text-anchor="middle" fill="#111" stroke="#111" stroke-width="0.30" stroke-linejoin="round" transform="rotate(-90 26.30 588.85)" >% of IFN-γ<tspan dy="-2.88" font-size="5.44">+</tspan><tspan dy="2.88" font-size="8.00">​</tspan>CD4<tspan dy="-2.88" font-size="5.44">+</tspan><tspan dy="2.88" font-size="8.00">​</tspan>T cells</text>
<line x1="132.00" y1="550.80" x2="169.70" y2="550.80" stroke="#7a7a7a" stroke-width="1.35" stroke-linecap="butt"/>
<text x="150.18" y="552.60" font-size="10.40" font-weight="bold" text-anchor="middle" fill="#111" stroke="#111" stroke-width="0.20" stroke-linejoin="round" letter-spacing="0.75">*</text>
<rect x="238.80" y="602.70" width="24.00" height="33.10" fill="#050505" stroke="none" stroke-width="0.00"/>
<rect x="274.00" y="600.10" width="24.00" height="35.70" fill="#050505" stroke="none" stroke-width="0.00"/>
<line x1="320.90" y1="561.60" x2="320.90" y2="570.30" stroke="#444" stroke-width="0.90" stroke-linecap="butt"/>
<line x1="315.10" y1="561.60" x2="326.70" y2="561.60" stroke="#6a6a6a" stroke-width="0.95" stroke-linecap="butt"/>
<rect x="308.90" y="569.30" width="24.00" height="66.50" fill="#050505" stroke="none" stroke-width="0.00"/>
<rect x="343.90" y="592.10" width="24.00" height="43.70" fill="#050505" stroke="none" stroke-width="0.00"/>
<line x1="233.20" y1="540.80" x2="233.20" y2="636.10" stroke="#111" stroke-width="1.20" stroke-linecap="butt"/>
<line x1="232.60" y1="635.50" x2="373.40" y2="635.50" stroke="#111" stroke-width="1.20" stroke-linecap="butt"/>
<line x1="230.20" y1="541.30" x2="233.20" y2="541.30" stroke="#111" stroke-width="1.10" stroke-linecap="butt"/>
<text x="227.80" y="543.64" font-size="6.50" font-weight="bold" text-anchor="end" fill="#111" stroke="#111" stroke-width="0.20" stroke-linejoin="round" >150</text>
<line x1="230.20" y1="572.70" x2="233.20" y2="572.70" stroke="#111" stroke-width="1.10" stroke-linecap="butt"/>
<text x="227.80" y="575.04" font-size="6.50" font-weight="bold" text-anchor="end" fill="#111" stroke="#111" stroke-width="0.20" stroke-linejoin="round" >100</text>
<line x1="230.20" y1="604.10" x2="233.20" y2="604.10" stroke="#111" stroke-width="1.10" stroke-linecap="butt"/>
<text x="227.80" y="606.44" font-size="6.50" font-weight="bold" text-anchor="end" fill="#111" stroke="#111" stroke-width="0.20" stroke-linejoin="round" >50</text>
<line x1="230.20" y1="635.50" x2="233.20" y2="635.50" stroke="#111" stroke-width="1.10" stroke-linecap="butt"/>
<text x="227.80" y="637.84" font-size="6.50" font-weight="bold" text-anchor="end" fill="#111" stroke="#111" stroke-width="0.20" stroke-linejoin="round" >0</text>
<line x1="250.80" y1="635.50" x2="250.80" y2="638.70" stroke="#111" stroke-width="1.10" stroke-linecap="butt"/>
<text x="252.10" y="644.20" font-size="7.30" font-weight="bold" text-anchor="end" fill="#111" stroke="#111" stroke-width="0.25" stroke-linejoin="round" transform="rotate(-45 252.10 644.20)" >WT+IgG</text>
<line x1="286.00" y1="635.50" x2="286.00" y2="638.70" stroke="#111" stroke-width="1.10" stroke-linecap="butt"/>
<text x="287.30" y="644.20" font-size="7.30" font-weight="bold" text-anchor="end" fill="#111" stroke="#111" stroke-width="0.25" stroke-linejoin="round" transform="rotate(-45 287.30 644.20)" >WT+anti-IL-12</text>
<line x1="320.90" y1="635.50" x2="320.90" y2="638.70" stroke="#111" stroke-width="1.10" stroke-linecap="butt"/>
<text x="322.20" y="644.20" font-size="7.30" font-weight="bold" text-anchor="end" fill="#111" stroke="#111" stroke-width="0.25" stroke-linejoin="round" transform="rotate(-45 322.20 644.20)" >IL-17<tspan dy="-2.52" font-size="4.76">-/-</tspan><tspan dy="2.52" font-size="7.00">​</tspan>+IgG</text>
<line x1="355.90" y1="635.50" x2="355.90" y2="638.70" stroke="#111" stroke-width="1.10" stroke-linecap="butt"/>
<text x="357.20" y="644.20" font-size="7.30" font-weight="bold" text-anchor="end" fill="#111" stroke="#111" stroke-width="0.25" stroke-linejoin="round" transform="rotate(-45 357.20 644.20)" >IL-17<tspan dy="-2.52" font-size="4.76">-/-</tspan><tspan dy="2.52" font-size="7.00">​</tspan>+anti-IL-12</text>
<text x="211.50" y="589.10" font-size="7.45" font-weight="bold" text-anchor="middle" fill="#111" stroke="#111" stroke-width="0.30" stroke-linejoin="round" transform="rotate(-90 211.50 589.10)" >IFN-γ (pg/ml)</text>
<line x1="321.00" y1="556.60" x2="358.00" y2="556.60" stroke="#7a7a7a" stroke-width="1.35" stroke-linecap="butt"/>
<text x="338.77" y="558.40" font-size="10.40" font-weight="bold" text-anchor="middle" fill="#111" stroke="#111" stroke-width="0.20" stroke-linejoin="round" letter-spacing="0.75">*</text>
<polyline points="76.70,371.90 179.90,371.90 179.90,413.22 200.54,413.22 200.54,413.22" fill="none" stroke="#1c1c1c" stroke-width="1.00" stroke-linejoin="miter"/>
<path d="M179.90,411.02 L182.10,414.98 L177.70,414.98 Z" fill="#000"/>
<path d="M200.54,411.02 L202.74,414.98 L198.34,414.98 Z" fill="#000"/>
<polyline points="76.70,371.90 112.82,371.90 112.82,392.56 128.30,392.56 128.30,413.22 133.46,413.22 133.46,433.88 200.54,433.88 200.54,433.88" fill="none" stroke="#1c1c1c" stroke-width="1.00" stroke-linejoin="miter"/>
<circle cx="112.82" cy="392.56" r="2.25" fill="#000"/>
<circle cx="128.30" cy="413.22" r="2.25" fill="#000"/>
<circle cx="133.46" cy="433.88" r="2.25" fill="#000"/>
<circle cx="200.54" cy="433.88" r="2.25" fill="#000"/>
<polyline points="76.70,371.90 97.34,371.90 97.34,392.56 102.50,392.56 102.50,454.54 107.66,454.54 107.66,475.20" fill="none" stroke="#1c1c1c" stroke-width="1.00" stroke-linejoin="miter"/>
<path d="M97.34,394.76 L99.54,390.80 L95.14,390.80 Z" fill="#000"/>
<path d="M102.50,456.74 L104.70,452.78 L100.30,452.78 Z" fill="#000"/>
<path d="M107.66,477.40 L109.86,473.44 L105.46,473.44 Z" fill="#000"/>
<polyline points="76.70,371.90 102.50,371.90 102.50,433.88 128.30,433.88 128.30,454.54 133.46,454.54 133.46,475.20" fill="none" stroke="#1c1c1c" stroke-width="1.00" stroke-linejoin="miter"/>
<rect x="100.45" y="431.83" width="4.10" height="4.10" fill="#000"/>
<rect x="126.25" y="452.49" width="4.10" height="4.10" fill="#000"/>
<rect x="131.41" y="473.15" width="4.10" height="4.10" fill="#000"/>
<line x1="76.70" y1="371.40" x2="76.70" y2="475.80" stroke="#111" stroke-width="1.20" stroke-linecap="butt"/>
<line x1="76.10" y1="475.20" x2="232.00" y2="475.20" stroke="#111" stroke-width="1.20" stroke-linecap="butt"/>
<line x1="73.50" y1="475.20" x2="76.70" y2="475.20" stroke="#111" stroke-width="1.10" stroke-linecap="butt"/>
<text x="70.80" y="477.75" font-size="7.00" font-weight="bold" text-anchor="end" fill="#111" stroke="#111" stroke-width="0.20" stroke-linejoin="round" >0</text>
<line x1="73.50" y1="454.54" x2="76.70" y2="454.54" stroke="#111" stroke-width="1.10" stroke-linecap="butt"/>
<text x="70.80" y="457.09" font-size="7.00" font-weight="bold" text-anchor="end" fill="#111" stroke="#111" stroke-width="0.20" stroke-linejoin="round" >20</text>
<line x1="73.50" y1="433.88" x2="76.70" y2="433.88" stroke="#111" stroke-width="1.10" stroke-linecap="butt"/>
<text x="70.80" y="436.43" font-size="7.00" font-weight="bold" text-anchor="end" fill="#111" stroke="#111" stroke-width="0.20" stroke-linejoin="round" >40</text>
<line x1="73.50" y1="413.22" x2="76.70" y2="413.22" stroke="#111" stroke-width="1.10" stroke-linecap="butt"/>
<text x="70.80" y="415.77" font-size="7.00" font-weight="bold" text-anchor="end" fill="#111" stroke="#111" stroke-width="0.20" stroke-linejoin="round" >60</text>
<line x1="73.50" y1="392.56" x2="76.70" y2="392.56" stroke="#111" stroke-width="1.10" stroke-linecap="butt"/>
<text x="70.80" y="395.11" font-size="7.00" font-weight="bold" text-anchor="end" fill="#111" stroke="#111" stroke-width="0.20" stroke-linejoin="round" >80</text>
<line x1="73.50" y1="371.90" x2="76.70" y2="371.90" stroke="#111" stroke-width="1.10" stroke-linecap="butt"/>
<text x="70.80" y="374.45" font-size="7.00" font-weight="bold" text-anchor="end" fill="#111" stroke="#111" stroke-width="0.20" stroke-linejoin="round" >100</text>
<line x1="76.70" y1="475.20" x2="76.70" y2="478.40" stroke="#111" stroke-width="1.10" stroke-linecap="butt"/>
<text x="76.70" y="485.60" font-size="7.00" font-weight="bold" text-anchor="middle" fill="#111" stroke="#111" stroke-width="0.20" stroke-linejoin="round" >0</text>
<line x1="128.30" y1="475.20" x2="128.30" y2="478.40" stroke="#111" stroke-width="1.10" stroke-linecap="butt"/>
<text x="128.30" y="485.60" font-size="7.00" font-weight="bold" text-anchor="middle" fill="#111" stroke="#111" stroke-width="0.20" stroke-linejoin="round" >10</text>
<line x1="179.90" y1="475.20" x2="179.90" y2="478.40" stroke="#111" stroke-width="1.10" stroke-linecap="butt"/>
<text x="179.90" y="485.60" font-size="7.00" font-weight="bold" text-anchor="middle" fill="#111" stroke="#111" stroke-width="0.20" stroke-linejoin="round" >20</text>
<line x1="231.50" y1="475.20" x2="231.50" y2="478.40" stroke="#111" stroke-width="1.10" stroke-linecap="butt"/>
<text x="231.50" y="485.60" font-size="7.00" font-weight="bold" text-anchor="middle" fill="#111" stroke="#111" stroke-width="0.20" stroke-linejoin="round" >30</text>
<text x="154.30" y="497.60" font-size="8.50" font-weight="bold" text-anchor="middle" fill="#111" stroke="#111" stroke-width="0.30" stroke-linejoin="round" >Days after BMT</text>
<text x="53.40" y="423.55" font-size="8.60" font-weight="bold" text-anchor="middle" fill="#111" stroke="#111" stroke-width="0.30" stroke-linejoin="round" transform="rotate(-90 53.40 423.55)" >% Survival</text>
<line x1="205.80" y1="411.50" x2="205.80" y2="433.30" stroke="#222" stroke-width="1.00" stroke-linecap="butt"/>
<text x="211.68" y="427.60" font-size="13.50" font-weight="bold" text-anchor="middle" fill="#111" stroke="#111" stroke-width="0.20" stroke-linejoin="round" letter-spacing="0.75">*</text>
<line x1="225.40" y1="370.90" x2="234.90" y2="370.90" stroke="#111" stroke-width="1.10" stroke-linecap="butt"/>
<path d="M230.20,368.90 L232.20,372.50 L228.20,372.50 Z" fill="#000"/>
<text x="240.30" y="372.80" font-size="7.60" font-weight="bold" text-anchor="start" fill="#111" stroke="#111" stroke-width="0.30" stroke-linejoin="round" >WT donor cells</text>
<line x1="225.40" y1="382.50" x2="234.90" y2="382.50" stroke="#111" stroke-width="1.10" stroke-linecap="butt"/>
<circle cx="230.20" cy="382.50" r="2.00" fill="#000"/>
<text x="240.30" y="386.10" font-size="7.60" font-weight="bold" text-anchor="start" fill="#111" stroke="#111" stroke-width="0.30" stroke-linejoin="round" >IL-17<tspan dy="-2.52" font-size="4.76">-/-</tspan><tspan dy="2.52" font-size="7.00">​</tspan> donor cells</text>
<line x1="225.40" y1="393.50" x2="234.90" y2="393.50" stroke="#111" stroke-width="1.10" stroke-linecap="butt"/>
<path d="M230.20,395.50 L232.20,391.90 L228.20,391.90 Z" fill="#000"/>
<text x="240.30" y="396.40" font-size="7.60" font-weight="bold" text-anchor="start" fill="#111" stroke="#111" stroke-width="0.30" stroke-linejoin="round" >WT donor cells+</text>
<text x="240.30" y="405.80" font-size="7.60" font-weight="bold" text-anchor="start" fill="#111" stroke="#111" stroke-width="0.30" stroke-linejoin="round" >Mφ depletion</text>
<line x1="225.40" y1="411.30" x2="234.90" y2="411.30" stroke="#111" stroke-width="1.10" stroke-linecap="butt"/>
<rect x="228.20" y="409.30" width="4.00" height="4.00" fill="#000"/>
<text x="240.30" y="414.90" font-size="7.60" font-weight="bold" text-anchor="start" fill="#111" stroke="#111" stroke-width="0.30" stroke-linejoin="round" >IL-17<tspan dy="-2.52" font-size="4.76">-/-</tspan><tspan dy="2.52" font-size="7.00">​</tspan>donor cells+</text>
<text x="240.30" y="424.30" font-size="7.60" font-weight="bold" text-anchor="start" fill="#111" stroke="#111" stroke-width="0.30" stroke-linejoin="round" >Mφ depletion</text>
<polyline points="459.40,558.40 517.18,558.40 517.18,579.82 562.12,579.82 562.12,601.24 565.33,601.24 565.33,622.66 568.54,622.66 568.54,644.08 574.96,644.08 574.96,665.50" fill="none" stroke="#1c1c1c" stroke-width="1.30" stroke-linejoin="miter"/>
<circle cx="517.18" cy="579.82" r="2.50" fill="#000"/>
<circle cx="562.12" cy="601.24" r="2.50" fill="#000"/>
<circle cx="565.33" cy="622.66" r="2.50" fill="#000"/>
<circle cx="568.54" cy="644.08" r="2.50" fill="#000"/>
<circle cx="574.96" cy="665.50" r="2.50" fill="#000"/>
<polyline points="459.40,558.40 552.49,558.40 552.49,579.82 603.85,579.82 603.85,579.82" fill="none" stroke="#1c1c1c" stroke-width="1.30" stroke-linejoin="miter"/>
<rect x="549.99" y="577.32" width="5.00" height="5.00" fill="#000"/>
<rect x="601.35" y="577.32" width="5.00" height="5.00" fill="#000"/>
<line x1="459.40" y1="557.90" x2="459.40" y2="666.10" stroke="#111" stroke-width="1.45" stroke-linecap="butt"/>
<line x1="458.80" y1="665.50" x2="620.40" y2="665.50" stroke="#111" stroke-width="1.45" stroke-linecap="butt"/>
<line x1="456.20" y1="665.50" x2="459.40" y2="665.50" stroke="#111" stroke-width="1.10" stroke-linecap="butt"/>
<text x="453.50" y="668.05" font-size="7.70" font-weight="bold" text-anchor="end" fill="#111" stroke="#111" stroke-width="0.20" stroke-linejoin="round" >0</text>
<line x1="456.20" y1="644.08" x2="459.40" y2="644.08" stroke="#111" stroke-width="1.10" stroke-linecap="butt"/>
<text x="453.50" y="646.63" font-size="7.70" font-weight="bold" text-anchor="end" fill="#111" stroke="#111" stroke-width="0.20" stroke-linejoin="round" >20</text>
<line x1="456.20" y1="622.66" x2="459.40" y2="622.66" stroke="#111" stroke-width="1.10" stroke-linecap="butt"/>
<text x="453.50" y="625.21" font-size="7.70" font-weight="bold" text-anchor="end" fill="#111" stroke="#111" stroke-width="0.20" stroke-linejoin="round" >40</text>
<line x1="456.20" y1="601.24" x2="459.40" y2="601.24" stroke="#111" stroke-width="1.10" stroke-linecap="butt"/>
<text x="453.50" y="603.79" font-size="7.70" font-weight="bold" text-anchor="end" fill="#111" stroke="#111" stroke-width="0.20" stroke-linejoin="round" >60</text>
<line x1="456.20" y1="579.82" x2="459.40" y2="579.82" stroke="#111" stroke-width="1.10" stroke-linecap="butt"/>
<text x="453.50" y="582.37" font-size="7.70" font-weight="bold" text-anchor="end" fill="#111" stroke="#111" stroke-width="0.20" stroke-linejoin="round" >80</text>
<line x1="456.20" y1="558.40" x2="459.40" y2="558.40" stroke="#111" stroke-width="1.10" stroke-linecap="butt"/>
<text x="453.50" y="560.95" font-size="7.70" font-weight="bold" text-anchor="end" fill="#111" stroke="#111" stroke-width="0.20" stroke-linejoin="round" >100</text>
<line x1="459.40" y1="665.50" x2="459.40" y2="668.70" stroke="#111" stroke-width="1.10" stroke-linecap="butt"/>
<text x="459.40" y="677.40" font-size="7.70" font-weight="bold" text-anchor="middle" fill="#111" stroke="#111" stroke-width="0.20" stroke-linejoin="round" >0</text>
<line x1="491.50" y1="665.50" x2="491.50" y2="668.70" stroke="#111" stroke-width="1.10" stroke-linecap="butt"/>
<text x="491.50" y="677.40" font-size="7.70" font-weight="bold" text-anchor="middle" fill="#111" stroke="#111" stroke-width="0.20" stroke-linejoin="round" >10</text>
<line x1="523.60" y1="665.50" x2="523.60" y2="668.70" stroke="#111" stroke-width="1.10" stroke-linecap="butt"/>
<text x="523.60" y="677.40" font-size="7.70" font-weight="bold" text-anchor="middle" fill="#111" stroke="#111" stroke-width="0.20" stroke-linejoin="round" >20</text>
<line x1="555.70" y1="665.50" x2="555.70" y2="668.70" stroke="#111" stroke-width="1.10" stroke-linecap="butt"/>
<text x="555.70" y="677.40" font-size="7.70" font-weight="bold" text-anchor="middle" fill="#111" stroke="#111" stroke-width="0.20" stroke-linejoin="round" >30</text>
<line x1="587.80" y1="665.50" x2="587.80" y2="668.70" stroke="#111" stroke-width="1.10" stroke-linecap="butt"/>
<text x="587.80" y="677.40" font-size="7.70" font-weight="bold" text-anchor="middle" fill="#111" stroke="#111" stroke-width="0.20" stroke-linejoin="round" >40</text>
<line x1="619.90" y1="665.50" x2="619.90" y2="668.70" stroke="#111" stroke-width="1.10" stroke-linecap="butt"/>
<text x="619.90" y="677.40" font-size="7.70" font-weight="bold" text-anchor="middle" fill="#111" stroke="#111" stroke-width="0.20" stroke-linejoin="round" >50</text>
<text x="539.60" y="689.50" font-size="8.60" font-weight="bold" text-anchor="middle" fill="#111" stroke="#111" stroke-width="0.30" stroke-linejoin="round" >Days after BMT</text>
<text x="435.30" y="611.95" font-size="8.30" font-weight="bold" text-anchor="middle" fill="#111" stroke="#111" stroke-width="0.30" stroke-linejoin="round" transform="rotate(-90 435.30 611.95)" >% Survival</text>
<polyline points="609.0,579.9 611.6,579.9 611.6,645.1 609.0,645.1" fill="none" stroke="#222" stroke-width="0.9"/>
<text x="617.98" y="614.80" font-size="9.00" font-weight="bold" text-anchor="middle" fill="#111" stroke="#111" stroke-width="0.20" stroke-linejoin="round" letter-spacing="0.75">*</text>
<line x1="430.70" y1="540.20" x2="442.80" y2="540.20" stroke="#111" stroke-width="1.10" stroke-linecap="butt"/>
<circle cx="436.70" cy="540.20" r="2.40" fill="#000"/>
<text x="449.20" y="543.50" font-size="8.90" font-weight="normal" text-anchor="start" fill="#111" stroke="#111" stroke-width="0.15" stroke-linejoin="round" >IL-17<tspan dy="-3.20" font-size="6.05">-/-</tspan><tspan dy="3.20" font-size="8.90">​</tspan> donor cells</text>
<line x1="526.50" y1="541.30" x2="538.70" y2="541.30" stroke="#111" stroke-width="1.10" stroke-linecap="butt"/>
<rect x="530.20" y="538.90" width="4.80" height="4.80" fill="#000"/>
<text x="544.70" y="544.90" font-size="8.90" font-weight="normal" text-anchor="start" fill="#111" stroke="#111" stroke-width="0.15" stroke-linejoin="round" >IL-17<tspan dy="-3.20" font-size="6.05">-/-</tspan><tspan dy="3.20" font-size="8.90">​</tspan> donor cells+αIL-12</text>
</g>
</svg></body></html>
